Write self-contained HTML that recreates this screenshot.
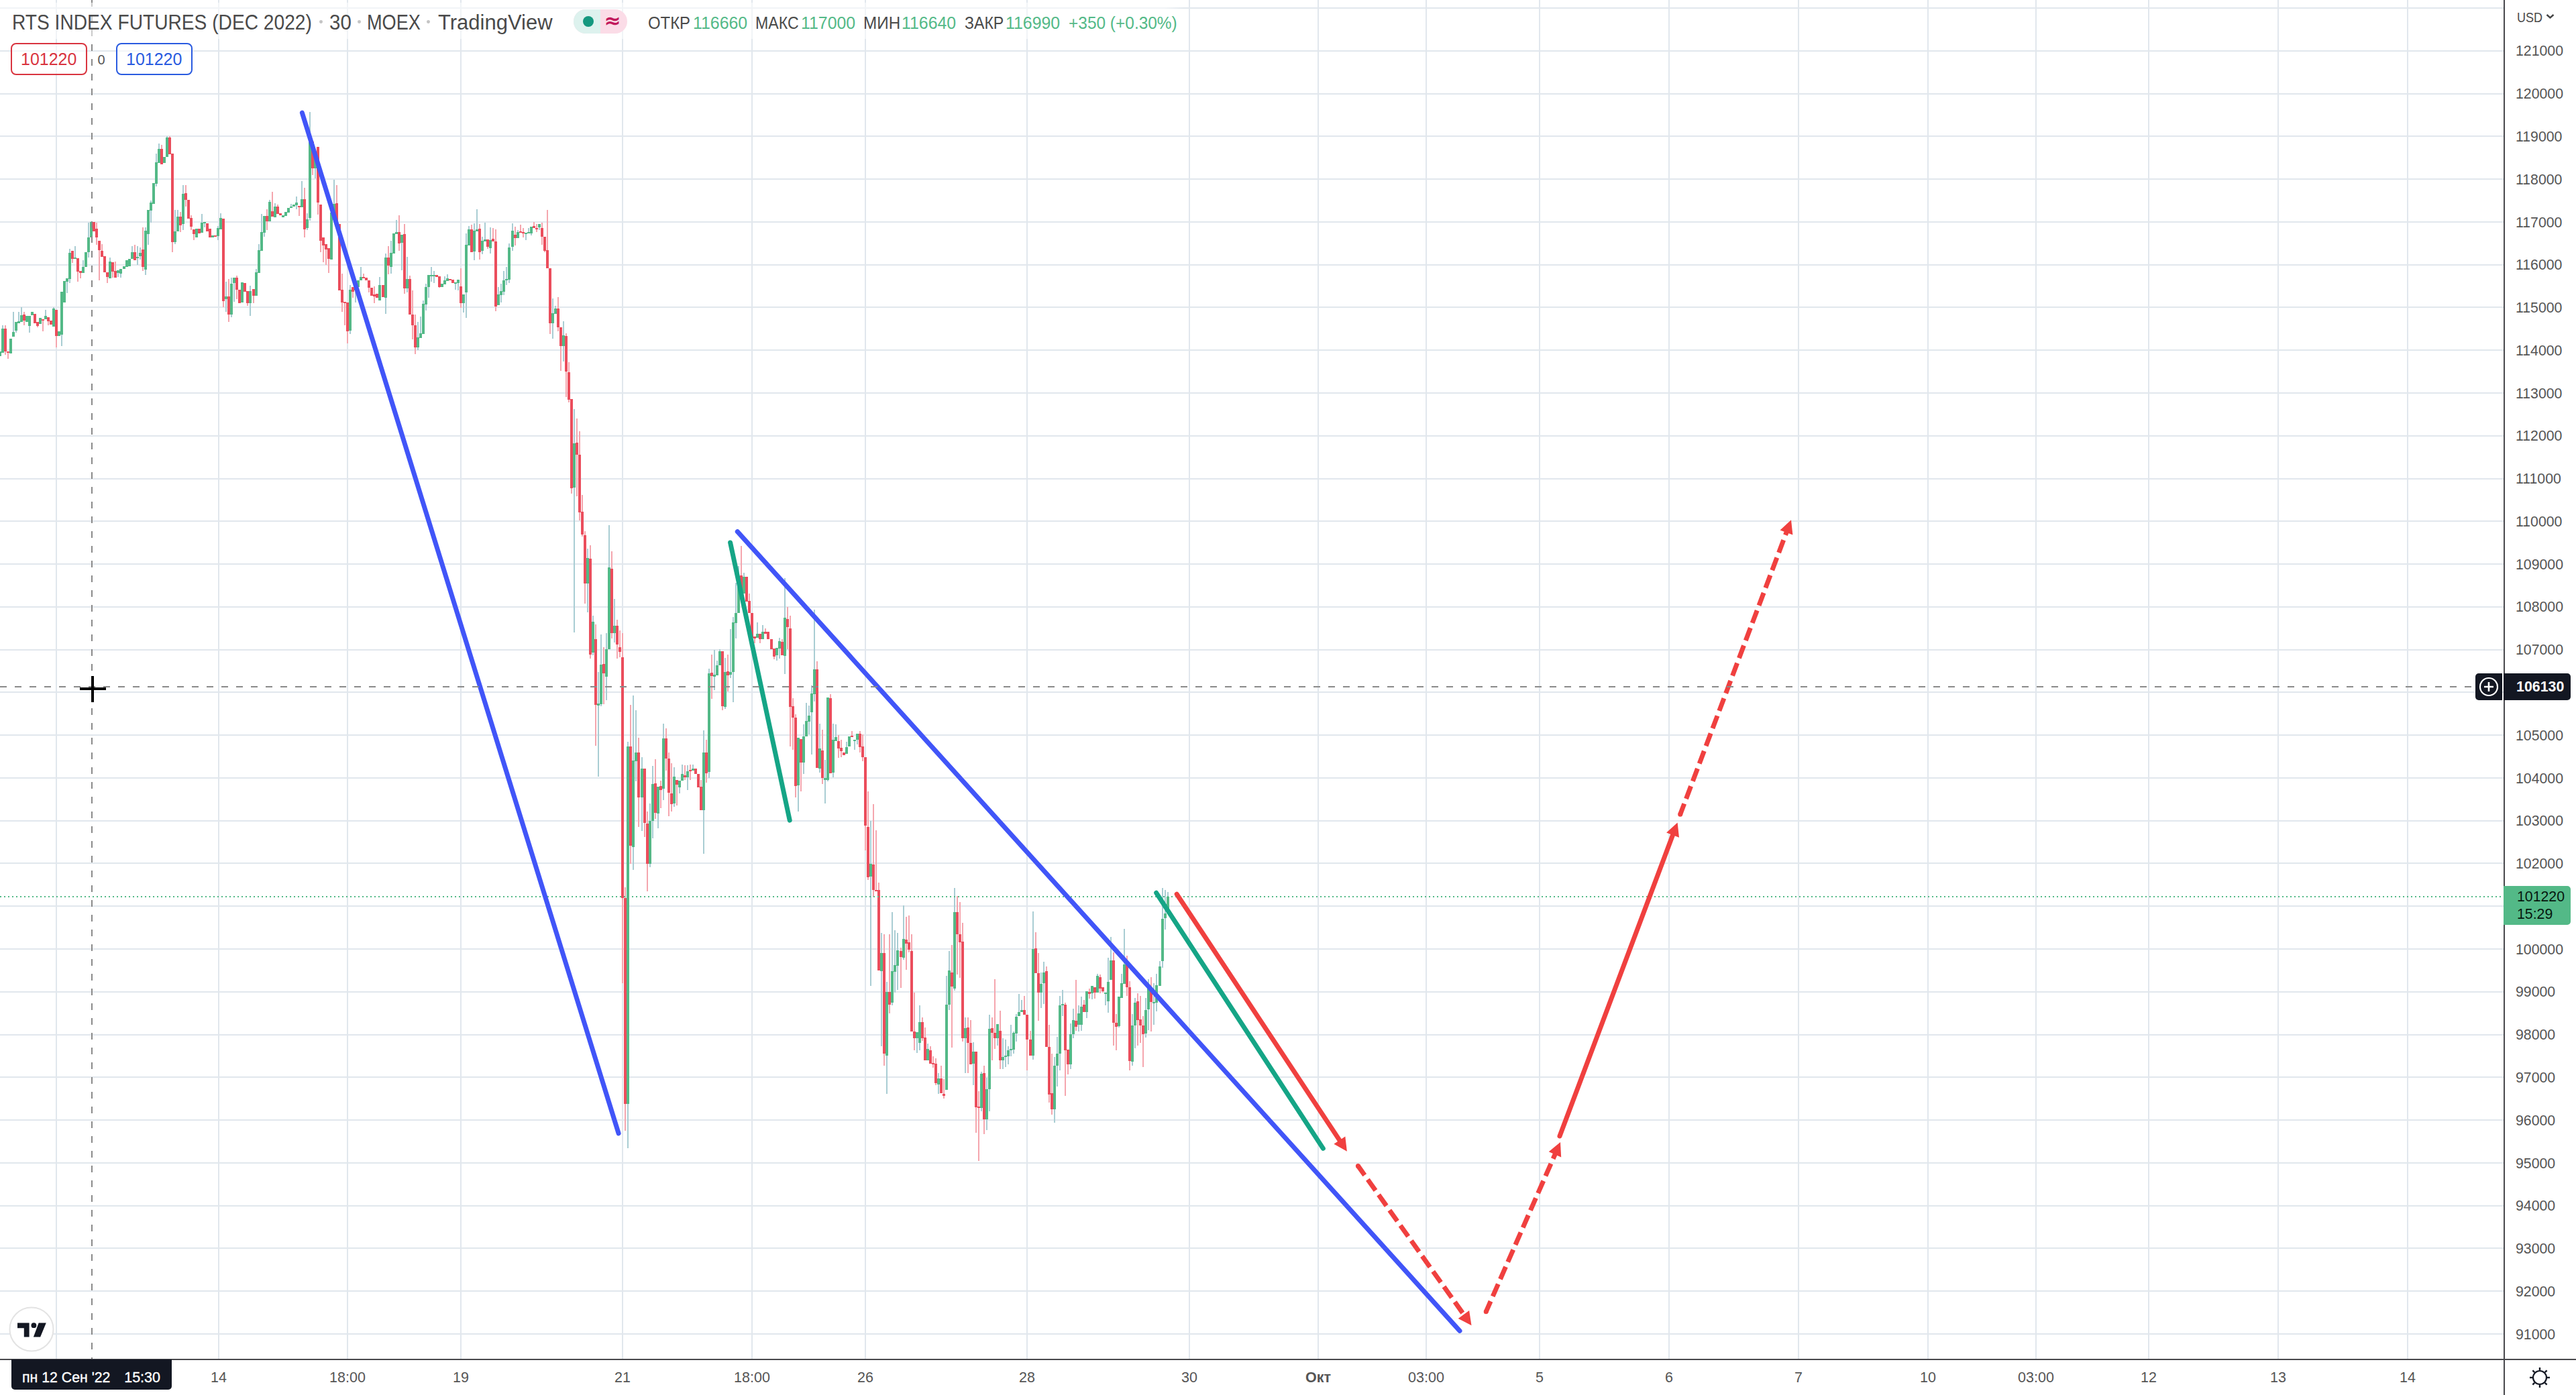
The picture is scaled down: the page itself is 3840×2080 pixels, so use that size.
<!DOCTYPE html>
<html lang="ru"><head><meta charset="utf-8"><title>RTS INDEX FUTURES (DEC 2022)</title>
<style>
html,body{margin:0;padding:0;background:#fff;}
body{width:3840px;height:2080px;position:relative;overflow:hidden;font-family:"Liberation Sans","DejaVu Sans",sans-serif;color:#555;}
svg.chart{position:absolute;left:0;top:0;}
.t{position:absolute;white-space:nowrap;line-height:1;}
.pl{position:absolute;left:3752px;font-size:21.5px;letter-spacing:-0.55px;white-space:nowrap;line-height:22px;height:22px;color:#555;}
.tl{position:absolute;top:2043.8px;font-size:21.5px;white-space:nowrap;line-height:1;color:#555;transform:translateX(-50%);}
.legendbg{position:absolute;left:0;top:4px;height:54px;width:1765px;background:linear-gradient(90deg,rgba(255,255,255,0.55) 0,rgba(255,255,255,0.55) 1735px,rgba(255,255,255,0) 1765px);}
.title{left:18px;top:14px;font-size:31px;color:#4a4a4a;letter-spacing:-0.5px;}
.ohlc{top:20px;font-size:25px;letter-spacing:-0.45px;color:#4a4a4a;}
.g{color:#53b987;}
.box{position:absolute;top:64px;height:44px;width:110px;border:2px solid;border-radius:8px;background:rgba(255,255,255,0.6);}
</style></head><body>

<svg class="chart" width="3840" height="2080" viewBox="0 0 3840 2080"><rect x="83" y="0" width="2" height="2026" fill="#e1e7ed"/>
<rect x="325" y="0" width="2" height="2026" fill="#e1e7ed"/>
<rect x="517" y="0" width="2" height="2026" fill="#e1e7ed"/>
<rect x="686" y="0" width="2" height="2026" fill="#e1e7ed"/>
<rect x="927" y="0" width="2" height="2026" fill="#e1e7ed"/>
<rect x="1120" y="0" width="2" height="2026" fill="#e1e7ed"/>
<rect x="1289" y="0" width="2" height="2026" fill="#e1e7ed"/>
<rect x="1530" y="0" width="2" height="2026" fill="#e1e7ed"/>
<rect x="1772" y="0" width="2" height="2026" fill="#e1e7ed"/>
<rect x="1964" y="0" width="2" height="2026" fill="#e1e7ed"/>
<rect x="2125" y="0" width="2" height="2026" fill="#e1e7ed"/>
<rect x="2294" y="0" width="2" height="2026" fill="#e1e7ed"/>
<rect x="2487" y="0" width="2" height="2026" fill="#e1e7ed"/>
<rect x="2680" y="0" width="2" height="2026" fill="#e1e7ed"/>
<rect x="2873" y="0" width="2" height="2026" fill="#e1e7ed"/>
<rect x="3034" y="0" width="2" height="2026" fill="#e1e7ed"/>
<rect x="3202" y="0" width="2" height="2026" fill="#e1e7ed"/>
<rect x="3395" y="0" width="2" height="2026" fill="#e1e7ed"/>
<rect x="3588" y="0" width="2" height="2026" fill="#e1e7ed"/>
<rect x="0" y="1988" width="3732" height="2" fill="#e1e7ed"/>
<rect x="0" y="1924" width="3732" height="2" fill="#e1e7ed"/>
<rect x="0" y="1860" width="3732" height="2" fill="#e1e7ed"/>
<rect x="0" y="1797" width="3732" height="2" fill="#e1e7ed"/>
<rect x="0" y="1733" width="3732" height="2" fill="#e1e7ed"/>
<rect x="0" y="1669" width="3732" height="2" fill="#e1e7ed"/>
<rect x="0" y="1605" width="3732" height="2" fill="#e1e7ed"/>
<rect x="0" y="1542" width="3732" height="2" fill="#e1e7ed"/>
<rect x="0" y="1478" width="3732" height="2" fill="#e1e7ed"/>
<rect x="0" y="1414" width="3732" height="2" fill="#e1e7ed"/>
<rect x="0" y="1350" width="3732" height="2" fill="#e1e7ed"/>
<rect x="0" y="1286" width="3732" height="2" fill="#e1e7ed"/>
<rect x="0" y="1223" width="3732" height="2" fill="#e1e7ed"/>
<rect x="0" y="1159" width="3732" height="2" fill="#e1e7ed"/>
<rect x="0" y="1095" width="3732" height="2" fill="#e1e7ed"/>
<rect x="0" y="1031" width="3732" height="2" fill="#e1e7ed"/>
<rect x="0" y="968" width="3732" height="2" fill="#e1e7ed"/>
<rect x="0" y="904" width="3732" height="2" fill="#e1e7ed"/>
<rect x="0" y="840" width="3732" height="2" fill="#e1e7ed"/>
<rect x="0" y="776" width="3732" height="2" fill="#e1e7ed"/>
<rect x="0" y="713" width="3732" height="2" fill="#e1e7ed"/>
<rect x="0" y="649" width="3732" height="2" fill="#e1e7ed"/>
<rect x="0" y="585" width="3732" height="2" fill="#e1e7ed"/>
<rect x="0" y="521" width="3732" height="2" fill="#e1e7ed"/>
<rect x="0" y="457" width="3732" height="2" fill="#e1e7ed"/>
<rect x="0" y="394" width="3732" height="2" fill="#e1e7ed"/>
<rect x="0" y="330" width="3732" height="2" fill="#e1e7ed"/>
<rect x="0" y="266" width="3732" height="2" fill="#e1e7ed"/>
<rect x="0" y="202" width="3732" height="2" fill="#e1e7ed"/>
<rect x="0" y="139" width="3732" height="2" fill="#e1e7ed"/>
<rect x="0" y="75" width="3732" height="2" fill="#e1e7ed"/>
<rect x="0" y="11" width="3732" height="2" fill="#e1e7ed"/>
<g shape-rendering="crispEdges"><rect x="-2" y="524" width="4" height="7" fill="#53b987"/><rect x="3" y="485" width="2" height="5" fill="#a9cdd3"/><rect x="2" y="490" width="4" height="36" fill="#53b987"/><rect x="7" y="485" width="2" height="5" fill="#f5a6ae"/><rect x="7" y="524" width="2" height="5" fill="#f5a6ae"/><rect x="6" y="490" width="4" height="34" fill="#eb4d5c"/><rect x="11" y="526" width="2" height="9" fill="#f5a6ae"/><rect x="10" y="524" width="4" height="2" fill="#eb4d5c"/><rect x="14" y="505" width="4" height="22" fill="#53b987"/><rect x="19" y="465" width="2" height="30" fill="#a9cdd3"/><rect x="18" y="495" width="4" height="7" fill="#53b987"/><rect x="23" y="493" width="2" height="3" fill="#a9cdd3"/><rect x="22" y="480" width="4" height="13" fill="#53b987"/><rect x="27" y="465" width="2" height="14" fill="#a9cdd3"/><rect x="26" y="479" width="4" height="3" fill="#53b987"/><rect x="31" y="458" width="2" height="12" fill="#a9cdd3"/><rect x="30" y="470" width="4" height="10" fill="#53b987"/><rect x="35" y="465" width="2" height="4" fill="#f5a6ae"/><rect x="35" y="478" width="2" height="7" fill="#f5a6ae"/><rect x="34" y="469" width="4" height="9" fill="#eb4d5c"/><rect x="38" y="471" width="4" height="9" fill="#53b987"/><rect x="43" y="486" width="2" height="10" fill="#a9cdd3"/><rect x="42" y="471" width="4" height="15" fill="#53b987"/><rect x="46" y="465" width="4" height="5" fill="#53b987"/><rect x="50" y="468" width="4" height="14" fill="#eb4d5c"/><rect x="55" y="486" width="2" height="2" fill="#f5a6ae"/><rect x="54" y="480" width="4" height="6" fill="#eb4d5c"/><rect x="58" y="474" width="4" height="9" fill="#53b987"/><rect x="63" y="478" width="2" height="16" fill="#f5a6ae"/><rect x="62" y="476" width="4" height="2" fill="#eb4d5c"/><rect x="67" y="462" width="2" height="9" fill="#a9cdd3"/><rect x="66" y="471" width="4" height="5" fill="#53b987"/><rect x="71" y="479" width="2" height="6" fill="#f5a6ae"/><rect x="70" y="473" width="4" height="6" fill="#eb4d5c"/><rect x="74" y="478" width="4" height="6" fill="#eb4d5c"/><rect x="79" y="458" width="2" height="2" fill="#a9cdd3"/><rect x="78" y="460" width="4" height="27" fill="#53b987"/><rect x="83" y="501" width="2" height="17" fill="#f5a6ae"/><rect x="82" y="462" width="4" height="39" fill="#eb4d5c"/><rect x="86" y="494" width="4" height="7" fill="#53b987"/><rect x="91" y="499" width="2" height="17" fill="#a9cdd3"/><rect x="90" y="435" width="4" height="64" fill="#53b987"/><rect x="94" y="419" width="4" height="32" fill="#53b987"/><rect x="99" y="420" width="2" height="17" fill="#a9cdd3"/><rect x="98" y="415" width="4" height="5" fill="#53b987"/><rect x="103" y="371" width="2" height="6" fill="#a9cdd3"/><rect x="103" y="416" width="2" height="6" fill="#a9cdd3"/><rect x="102" y="377" width="4" height="39" fill="#53b987"/><rect x="107" y="386" width="2" height="6" fill="#f5a6ae"/><rect x="106" y="374" width="4" height="12" fill="#eb4d5c"/><rect x="111" y="367" width="2" height="17" fill="#a9cdd3"/><rect x="110" y="384" width="4" height="2" fill="#53b987"/><rect x="115" y="405" width="2" height="15" fill="#f5a6ae"/><rect x="114" y="385" width="4" height="20" fill="#eb4d5c"/><rect x="119" y="407" width="2" height="8" fill="#f5a6ae"/><rect x="118" y="404" width="4" height="3" fill="#eb4d5c"/><rect x="123" y="388" width="2" height="10" fill="#a9cdd3"/><rect x="122" y="398" width="4" height="9" fill="#53b987"/><rect x="126" y="376" width="4" height="22" fill="#53b987"/><rect x="131" y="332" width="2" height="22" fill="#a9cdd3"/><rect x="131" y="376" width="2" height="8" fill="#a9cdd3"/><rect x="130" y="354" width="4" height="22" fill="#53b987"/><rect x="135" y="330" width="2" height="1" fill="#a9cdd3"/><rect x="134" y="331" width="4" height="23" fill="#53b987"/><rect x="138" y="331" width="4" height="14" fill="#eb4d5c"/><rect x="143" y="332" width="2" height="9" fill="#f5a6ae"/><rect x="143" y="354" width="2" height="11" fill="#f5a6ae"/><rect x="142" y="341" width="4" height="13" fill="#eb4d5c"/><rect x="147" y="373" width="2" height="45" fill="#f5a6ae"/><rect x="146" y="359" width="4" height="14" fill="#eb4d5c"/><rect x="151" y="364" width="2" height="10" fill="#f5a6ae"/><rect x="150" y="374" width="4" height="9" fill="#eb4d5c"/><rect x="154" y="382" width="4" height="24" fill="#eb4d5c"/><rect x="159" y="413" width="2" height="9" fill="#f5a6ae"/><rect x="158" y="406" width="4" height="7" fill="#eb4d5c"/><rect x="163" y="384" width="2" height="6" fill="#a9cdd3"/><rect x="162" y="390" width="4" height="25" fill="#53b987"/><rect x="167" y="405" width="2" height="9" fill="#f5a6ae"/><rect x="166" y="391" width="4" height="14" fill="#eb4d5c"/><rect x="171" y="390" width="2" height="14" fill="#f5a6ae"/><rect x="170" y="404" width="4" height="10" fill="#eb4d5c"/><rect x="175" y="407" width="2" height="6" fill="#a9cdd3"/><rect x="174" y="403" width="4" height="4" fill="#53b987"/><rect x="179" y="408" width="2" height="6" fill="#a9cdd3"/><rect x="178" y="401" width="4" height="7" fill="#53b987"/><rect x="183" y="397" width="4" height="4" fill="#53b987"/><rect x="187" y="388" width="4" height="10" fill="#53b987"/><rect x="191" y="386" width="4" height="11" fill="#53b987"/><rect x="196" y="367" width="2" height="9" fill="#a9cdd3"/><rect x="195" y="376" width="4" height="10" fill="#53b987"/><rect x="200" y="365" width="2" height="11" fill="#f5a6ae"/><rect x="199" y="376" width="4" height="12" fill="#eb4d5c"/><rect x="204" y="367" width="2" height="16" fill="#a9cdd3"/><rect x="204" y="385" width="2" height="10" fill="#a9cdd3"/><rect x="203" y="383" width="4" height="2" fill="#53b987"/><rect x="208" y="369" width="2" height="8" fill="#a9cdd3"/><rect x="208" y="382" width="2" height="5" fill="#a9cdd3"/><rect x="207" y="377" width="4" height="5" fill="#53b987"/><rect x="212" y="339" width="2" height="33" fill="#f5a6ae"/><rect x="212" y="398" width="2" height="6" fill="#f5a6ae"/><rect x="211" y="372" width="4" height="26" fill="#eb4d5c"/><rect x="216" y="339" width="2" height="5" fill="#a9cdd3"/><rect x="216" y="402" width="2" height="8" fill="#a9cdd3"/><rect x="215" y="344" width="4" height="58" fill="#53b987"/><rect x="220" y="349" width="2" height="16" fill="#a9cdd3"/><rect x="219" y="313" width="4" height="36" fill="#53b987"/><rect x="224" y="299" width="2" height="3" fill="#a9cdd3"/><rect x="224" y="314" width="2" height="18" fill="#a9cdd3"/><rect x="223" y="302" width="4" height="12" fill="#53b987"/><rect x="227" y="273" width="4" height="31" fill="#53b987"/><rect x="232" y="229" width="2" height="13" fill="#a9cdd3"/><rect x="232" y="274" width="2" height="4" fill="#a9cdd3"/><rect x="231" y="242" width="4" height="32" fill="#53b987"/><rect x="236" y="214" width="2" height="8" fill="#a9cdd3"/><rect x="235" y="222" width="4" height="21" fill="#53b987"/><rect x="240" y="216" width="2" height="6" fill="#f5a6ae"/><rect x="239" y="222" width="4" height="23" fill="#eb4d5c"/><rect x="243" y="234" width="4" height="9" fill="#53b987"/><rect x="248" y="203" width="2" height="2" fill="#a9cdd3"/><rect x="247" y="205" width="4" height="29" fill="#53b987"/><rect x="252" y="203" width="2" height="2" fill="#f5a6ae"/><rect x="251" y="205" width="4" height="25" fill="#eb4d5c"/><rect x="256" y="361" width="2" height="15" fill="#f5a6ae"/><rect x="255" y="229" width="4" height="132" fill="#eb4d5c"/><rect x="260" y="313" width="2" height="32" fill="#a9cdd3"/><rect x="260" y="361" width="2" height="3" fill="#a9cdd3"/><rect x="259" y="345" width="4" height="16" fill="#53b987"/><rect x="264" y="313" width="2" height="10" fill="#a9cdd3"/><rect x="263" y="323" width="4" height="22" fill="#53b987"/><rect x="268" y="316" width="2" height="7" fill="#f5a6ae"/><rect x="268" y="336" width="2" height="10" fill="#f5a6ae"/><rect x="267" y="323" width="4" height="13" fill="#eb4d5c"/><rect x="272" y="276" width="2" height="13" fill="#a9cdd3"/><rect x="272" y="334" width="2" height="9" fill="#a9cdd3"/><rect x="271" y="289" width="4" height="45" fill="#53b987"/><rect x="276" y="276" width="2" height="12" fill="#f5a6ae"/><rect x="276" y="298" width="2" height="10" fill="#f5a6ae"/><rect x="275" y="288" width="4" height="10" fill="#eb4d5c"/><rect x="279" y="298" width="4" height="28" fill="#eb4d5c"/><rect x="284" y="321" width="2" height="4" fill="#f5a6ae"/><rect x="284" y="338" width="2" height="5" fill="#f5a6ae"/><rect x="283" y="325" width="4" height="13" fill="#eb4d5c"/><rect x="288" y="349" width="2" height="9" fill="#f5a6ae"/><rect x="287" y="342" width="4" height="7" fill="#eb4d5c"/><rect x="291" y="341" width="4" height="13" fill="#53b987"/><rect x="295" y="341" width="4" height="7" fill="#eb4d5c"/><rect x="300" y="319" width="2" height="13" fill="#a9cdd3"/><rect x="299" y="332" width="4" height="15" fill="#53b987"/><rect x="304" y="333" width="2" height="6" fill="#a9cdd3"/><rect x="303" y="331" width="4" height="2" fill="#53b987"/><rect x="307" y="333" width="4" height="12" fill="#eb4d5c"/><rect x="311" y="341" width="4" height="13" fill="#eb4d5c"/><rect x="315" y="351" width="4" height="3" fill="#53b987"/><rect x="319" y="351" width="4" height="2" fill="#eb4d5c"/><rect x="324" y="337" width="2" height="3" fill="#a9cdd3"/><rect x="324" y="352" width="2" height="6" fill="#a9cdd3"/><rect x="323" y="340" width="4" height="12" fill="#53b987"/><rect x="328" y="318" width="2" height="7" fill="#a9cdd3"/><rect x="327" y="325" width="4" height="17" fill="#53b987"/><rect x="332" y="449" width="2" height="9" fill="#f5a6ae"/><rect x="331" y="326" width="4" height="123" fill="#eb4d5c"/><rect x="336" y="420" width="2" height="22" fill="#a9cdd3"/><rect x="336" y="446" width="2" height="19" fill="#a9cdd3"/><rect x="335" y="442" width="4" height="4" fill="#53b987"/><rect x="340" y="416" width="2" height="26" fill="#f5a6ae"/><rect x="340" y="469" width="2" height="11" fill="#f5a6ae"/><rect x="339" y="442" width="4" height="27" fill="#eb4d5c"/><rect x="344" y="414" width="2" height="9" fill="#a9cdd3"/><rect x="344" y="469" width="2" height="4" fill="#a9cdd3"/><rect x="343" y="423" width="4" height="46" fill="#53b987"/><rect x="348" y="422" width="2" height="28" fill="#a9cdd3"/><rect x="347" y="414" width="4" height="8" fill="#53b987"/><rect x="352" y="411" width="2" height="3" fill="#f5a6ae"/><rect x="352" y="432" width="2" height="14" fill="#f5a6ae"/><rect x="351" y="414" width="4" height="18" fill="#eb4d5c"/><rect x="355" y="432" width="4" height="20" fill="#eb4d5c"/><rect x="359" y="421" width="4" height="30" fill="#53b987"/><rect x="363" y="422" width="4" height="13" fill="#eb4d5c"/><rect x="368" y="452" width="2" height="4" fill="#f5a6ae"/><rect x="367" y="434" width="4" height="18" fill="#eb4d5c"/><rect x="372" y="426" width="2" height="8" fill="#a9cdd3"/><rect x="372" y="452" width="2" height="19" fill="#a9cdd3"/><rect x="371" y="434" width="4" height="18" fill="#53b987"/><rect x="377" y="441" width="2" height="11" fill="#f5a6ae"/><rect x="376" y="431" width="4" height="10" fill="#eb4d5c"/><rect x="381" y="401" width="2" height="5" fill="#a9cdd3"/><rect x="380" y="406" width="4" height="35" fill="#53b987"/><rect x="385" y="364" width="2" height="9" fill="#a9cdd3"/><rect x="384" y="373" width="4" height="34" fill="#53b987"/><rect x="389" y="319" width="2" height="27" fill="#a9cdd3"/><rect x="388" y="346" width="4" height="28" fill="#53b987"/><rect x="393" y="347" width="2" height="6" fill="#a9cdd3"/><rect x="392" y="322" width="4" height="25" fill="#53b987"/><rect x="397" y="312" width="2" height="10" fill="#f5a6ae"/><rect x="397" y="330" width="2" height="13" fill="#f5a6ae"/><rect x="396" y="322" width="4" height="8" fill="#eb4d5c"/><rect x="401" y="298" width="2" height="3" fill="#a9cdd3"/><rect x="400" y="301" width="4" height="29" fill="#53b987"/><rect x="405" y="286" width="2" height="29" fill="#f5a6ae"/><rect x="404" y="315" width="4" height="8" fill="#eb4d5c"/><rect x="409" y="303" width="2" height="5" fill="#a9cdd3"/><rect x="408" y="308" width="4" height="16" fill="#53b987"/><rect x="413" y="305" width="2" height="3" fill="#f5a6ae"/><rect x="412" y="308" width="4" height="11" fill="#eb4d5c"/><rect x="416" y="318" width="4" height="3" fill="#eb4d5c"/><rect x="420" y="321" width="4" height="3" fill="#53b987"/><rect x="424" y="316" width="4" height="6" fill="#53b987"/><rect x="428" y="310" width="4" height="7" fill="#53b987"/><rect x="433" y="304" width="2" height="4" fill="#a9cdd3"/><rect x="432" y="308" width="4" height="2" fill="#53b987"/><rect x="436" y="305" width="4" height="3" fill="#53b987"/><rect x="441" y="293" width="2" height="9" fill="#a9cdd3"/><rect x="441" y="306" width="2" height="6" fill="#a9cdd3"/><rect x="440" y="302" width="4" height="4" fill="#53b987"/><rect x="445" y="309" width="2" height="13" fill="#f5a6ae"/><rect x="444" y="307" width="4" height="2" fill="#eb4d5c"/><rect x="449" y="270" width="2" height="27" fill="#a9cdd3"/><rect x="448" y="297" width="4" height="12" fill="#53b987"/><rect x="453" y="280" width="2" height="17" fill="#f5a6ae"/><rect x="453" y="342" width="2" height="12" fill="#f5a6ae"/><rect x="452" y="297" width="4" height="45" fill="#eb4d5c"/><rect x="457" y="318" width="2" height="9" fill="#a9cdd3"/><rect x="457" y="340" width="2" height="3" fill="#a9cdd3"/><rect x="456" y="327" width="4" height="13" fill="#53b987"/><rect x="461" y="167" width="2" height="45" fill="#a9cdd3"/><rect x="461" y="325" width="2" height="4" fill="#a9cdd3"/><rect x="460" y="212" width="4" height="113" fill="#53b987"/><rect x="465" y="251" width="2" height="10" fill="#f5a6ae"/><rect x="464" y="211" width="4" height="40" fill="#eb4d5c"/><rect x="469" y="251" width="2" height="15" fill="#a9cdd3"/><rect x="468" y="228" width="4" height="23" fill="#53b987"/><rect x="473" y="302" width="2" height="18" fill="#f5a6ae"/><rect x="472" y="219" width="4" height="83" fill="#eb4d5c"/><rect x="477" y="359" width="2" height="17" fill="#f5a6ae"/><rect x="476" y="305" width="4" height="54" fill="#eb4d5c"/><rect x="481" y="366" width="2" height="25" fill="#f5a6ae"/><rect x="480" y="354" width="4" height="12" fill="#eb4d5c"/><rect x="485" y="372" width="2" height="23" fill="#f5a6ae"/><rect x="484" y="364" width="4" height="8" fill="#eb4d5c"/><rect x="489" y="386" width="2" height="21" fill="#f5a6ae"/><rect x="488" y="370" width="4" height="16" fill="#eb4d5c"/><rect x="492" y="317" width="4" height="70" fill="#53b987"/><rect x="497" y="268" width="2" height="36" fill="#a9cdd3"/><rect x="496" y="304" width="4" height="16" fill="#53b987"/><rect x="501" y="276" width="2" height="27" fill="#f5a6ae"/><rect x="500" y="303" width="4" height="30" fill="#eb4d5c"/><rect x="504" y="334" width="4" height="99" fill="#eb4d5c"/><rect x="509" y="408" width="2" height="24" fill="#f5a6ae"/><rect x="509" y="451" width="2" height="14" fill="#f5a6ae"/><rect x="508" y="432" width="4" height="19" fill="#eb4d5c"/><rect x="513" y="452" width="2" height="33" fill="#f5a6ae"/><rect x="512" y="450" width="4" height="2" fill="#eb4d5c"/><rect x="517" y="494" width="2" height="18" fill="#f5a6ae"/><rect x="516" y="451" width="4" height="43" fill="#eb4d5c"/><rect x="521" y="425" width="2" height="7" fill="#a9cdd3"/><rect x="521" y="493" width="2" height="5" fill="#a9cdd3"/><rect x="520" y="432" width="4" height="61" fill="#53b987"/><rect x="525" y="435" width="2" height="9" fill="#f5a6ae"/><rect x="524" y="428" width="4" height="7" fill="#eb4d5c"/><rect x="529" y="433" width="2" height="18" fill="#a9cdd3"/><rect x="528" y="428" width="4" height="5" fill="#53b987"/><rect x="532" y="418" width="4" height="10" fill="#53b987"/><rect x="537" y="398" width="2" height="15" fill="#a9cdd3"/><rect x="536" y="413" width="4" height="5" fill="#53b987"/><rect x="541" y="408" width="2" height="5" fill="#f5a6ae"/><rect x="540" y="413" width="4" height="2" fill="#eb4d5c"/><rect x="544" y="414" width="4" height="4" fill="#eb4d5c"/><rect x="549" y="429" width="2" height="7" fill="#f5a6ae"/><rect x="548" y="418" width="4" height="11" fill="#eb4d5c"/><rect x="552" y="429" width="4" height="12" fill="#eb4d5c"/><rect x="557" y="427" width="2" height="12" fill="#f5a6ae"/><rect x="557" y="442" width="2" height="10" fill="#f5a6ae"/><rect x="556" y="439" width="4" height="3" fill="#eb4d5c"/><rect x="560" y="438" width="4" height="6" fill="#eb4d5c"/><rect x="565" y="413" width="2" height="12" fill="#a9cdd3"/><rect x="564" y="425" width="4" height="23" fill="#53b987"/><rect x="569" y="425" width="4" height="18" fill="#eb4d5c"/><rect x="574" y="378" width="2" height="6" fill="#a9cdd3"/><rect x="574" y="444" width="2" height="24" fill="#a9cdd3"/><rect x="573" y="384" width="4" height="60" fill="#53b987"/><rect x="578" y="367" width="2" height="17" fill="#f5a6ae"/><rect x="578" y="396" width="2" height="13" fill="#f5a6ae"/><rect x="577" y="384" width="4" height="12" fill="#eb4d5c"/><rect x="582" y="359" width="2" height="18" fill="#a9cdd3"/><rect x="582" y="398" width="2" height="10" fill="#a9cdd3"/><rect x="581" y="377" width="4" height="21" fill="#53b987"/><rect x="585" y="348" width="4" height="30" fill="#53b987"/><rect x="590" y="328" width="2" height="18" fill="#a9cdd3"/><rect x="589" y="346" width="4" height="3" fill="#53b987"/><rect x="594" y="321" width="2" height="25" fill="#f5a6ae"/><rect x="594" y="363" width="2" height="11" fill="#f5a6ae"/><rect x="593" y="346" width="4" height="17" fill="#eb4d5c"/><rect x="598" y="362" width="2" height="41" fill="#a9cdd3"/><rect x="597" y="350" width="4" height="12" fill="#53b987"/><rect x="602" y="334" width="2" height="15" fill="#f5a6ae"/><rect x="602" y="430" width="2" height="8" fill="#f5a6ae"/><rect x="601" y="349" width="4" height="81" fill="#eb4d5c"/><rect x="606" y="383" width="2" height="33" fill="#a9cdd3"/><rect x="606" y="430" width="2" height="6" fill="#a9cdd3"/><rect x="605" y="416" width="4" height="14" fill="#53b987"/><rect x="610" y="411" width="2" height="5" fill="#f5a6ae"/><rect x="609" y="416" width="4" height="53" fill="#eb4d5c"/><rect x="614" y="433" width="2" height="36" fill="#f5a6ae"/><rect x="614" y="485" width="2" height="21" fill="#f5a6ae"/><rect x="613" y="469" width="4" height="16" fill="#eb4d5c"/><rect x="618" y="469" width="2" height="16" fill="#f5a6ae"/><rect x="618" y="518" width="2" height="10" fill="#f5a6ae"/><rect x="617" y="485" width="4" height="33" fill="#eb4d5c"/><rect x="622" y="480" width="2" height="23" fill="#a9cdd3"/><rect x="622" y="518" width="2" height="4" fill="#a9cdd3"/><rect x="621" y="503" width="4" height="15" fill="#53b987"/><rect x="626" y="472" width="2" height="25" fill="#a9cdd3"/><rect x="625" y="497" width="4" height="7" fill="#53b987"/><rect x="630" y="448" width="2" height="5" fill="#a9cdd3"/><rect x="629" y="453" width="4" height="45" fill="#53b987"/><rect x="634" y="423" width="2" height="5" fill="#a9cdd3"/><rect x="634" y="454" width="2" height="9" fill="#a9cdd3"/><rect x="633" y="428" width="4" height="26" fill="#53b987"/><rect x="638" y="428" width="2" height="16" fill="#a9cdd3"/><rect x="637" y="410" width="4" height="18" fill="#53b987"/><rect x="642" y="398" width="2" height="12" fill="#a9cdd3"/><rect x="642" y="412" width="2" height="8" fill="#a9cdd3"/><rect x="641" y="410" width="4" height="2" fill="#53b987"/><rect x="646" y="404" width="2" height="6" fill="#a9cdd3"/><rect x="646" y="412" width="2" height="10" fill="#a9cdd3"/><rect x="645" y="410" width="4" height="2" fill="#53b987"/><rect x="649" y="410" width="4" height="3" fill="#eb4d5c"/><rect x="654" y="428" width="2" height="1" fill="#f5a6ae"/><rect x="653" y="412" width="4" height="16" fill="#eb4d5c"/><rect x="657" y="423" width="4" height="5" fill="#53b987"/><rect x="662" y="412" width="2" height="6" fill="#a9cdd3"/><rect x="661" y="418" width="4" height="6" fill="#53b987"/><rect x="666" y="409" width="2" height="6" fill="#a9cdd3"/><rect x="665" y="415" width="4" height="4" fill="#53b987"/><rect x="669" y="416" width="4" height="2" fill="#eb4d5c"/><rect x="673" y="417" width="4" height="5" fill="#eb4d5c"/><rect x="678" y="423" width="2" height="9" fill="#a9cdd3"/><rect x="677" y="421" width="4" height="2" fill="#53b987"/><rect x="682" y="422" width="2" height="11" fill="#a9cdd3"/><rect x="681" y="417" width="4" height="5" fill="#53b987"/><rect x="686" y="400" width="2" height="27" fill="#f5a6ae"/><rect x="686" y="452" width="2" height="7" fill="#f5a6ae"/><rect x="685" y="427" width="4" height="25" fill="#eb4d5c"/><rect x="690" y="452" width="2" height="14" fill="#a9cdd3"/><rect x="689" y="439" width="4" height="13" fill="#53b987"/><rect x="694" y="348" width="2" height="17" fill="#a9cdd3"/><rect x="694" y="436" width="2" height="38" fill="#a9cdd3"/><rect x="693" y="365" width="4" height="71" fill="#53b987"/><rect x="698" y="337" width="2" height="5" fill="#a9cdd3"/><rect x="697" y="342" width="4" height="24" fill="#53b987"/><rect x="702" y="335" width="2" height="7" fill="#f5a6ae"/><rect x="701" y="342" width="4" height="34" fill="#eb4d5c"/><rect x="706" y="333" width="2" height="11" fill="#a9cdd3"/><rect x="706" y="375" width="2" height="13" fill="#a9cdd3"/><rect x="705" y="344" width="4" height="31" fill="#53b987"/><rect x="710" y="312" width="2" height="30" fill="#a9cdd3"/><rect x="709" y="342" width="4" height="3" fill="#53b987"/><rect x="714" y="334" width="2" height="7" fill="#f5a6ae"/><rect x="714" y="376" width="2" height="11" fill="#f5a6ae"/><rect x="713" y="341" width="4" height="35" fill="#eb4d5c"/><rect x="718" y="353" width="2" height="6" fill="#a9cdd3"/><rect x="718" y="374" width="2" height="5" fill="#a9cdd3"/><rect x="717" y="359" width="4" height="15" fill="#53b987"/><rect x="722" y="332" width="2" height="25" fill="#a9cdd3"/><rect x="721" y="357" width="4" height="3" fill="#53b987"/><rect x="726" y="368" width="2" height="3" fill="#f5a6ae"/><rect x="725" y="357" width="4" height="11" fill="#eb4d5c"/><rect x="730" y="339" width="2" height="19" fill="#a9cdd3"/><rect x="730" y="370" width="2" height="8" fill="#a9cdd3"/><rect x="729" y="358" width="4" height="12" fill="#53b987"/><rect x="734" y="340" width="2" height="16" fill="#f5a6ae"/><rect x="733" y="356" width="4" height="4" fill="#eb4d5c"/><rect x="738" y="342" width="2" height="18" fill="#f5a6ae"/><rect x="738" y="457" width="2" height="7" fill="#f5a6ae"/><rect x="737" y="360" width="4" height="97" fill="#eb4d5c"/><rect x="742" y="428" width="2" height="11" fill="#a9cdd3"/><rect x="741" y="439" width="4" height="16" fill="#53b987"/><rect x="746" y="423" width="2" height="11" fill="#a9cdd3"/><rect x="746" y="440" width="2" height="11" fill="#a9cdd3"/><rect x="745" y="434" width="4" height="6" fill="#53b987"/><rect x="750" y="404" width="2" height="14" fill="#a9cdd3"/><rect x="750" y="435" width="2" height="5" fill="#a9cdd3"/><rect x="749" y="418" width="4" height="17" fill="#53b987"/><rect x="754" y="398" width="2" height="18" fill="#a9cdd3"/><rect x="754" y="418" width="2" height="7" fill="#a9cdd3"/><rect x="753" y="416" width="4" height="2" fill="#53b987"/><rect x="758" y="363" width="2" height="6" fill="#a9cdd3"/><rect x="758" y="417" width="2" height="5" fill="#a9cdd3"/><rect x="757" y="369" width="4" height="48" fill="#53b987"/><rect x="763" y="333" width="2" height="11" fill="#a9cdd3"/><rect x="763" y="368" width="2" height="6" fill="#a9cdd3"/><rect x="762" y="344" width="4" height="24" fill="#53b987"/><rect x="767" y="338" width="2" height="12" fill="#f5a6ae"/><rect x="767" y="355" width="2" height="11" fill="#f5a6ae"/><rect x="766" y="350" width="4" height="5" fill="#eb4d5c"/><rect x="771" y="343" width="2" height="3" fill="#a9cdd3"/><rect x="770" y="346" width="4" height="9" fill="#53b987"/><rect x="775" y="335" width="2" height="10" fill="#f5a6ae"/><rect x="774" y="345" width="4" height="2" fill="#eb4d5c"/><rect x="779" y="340" width="2" height="6" fill="#f5a6ae"/><rect x="779" y="348" width="2" height="6" fill="#f5a6ae"/><rect x="778" y="346" width="4" height="2" fill="#eb4d5c"/><rect x="783" y="349" width="2" height="9" fill="#a9cdd3"/><rect x="782" y="347" width="4" height="2" fill="#53b987"/><rect x="787" y="340" width="2" height="6" fill="#a9cdd3"/><rect x="786" y="346" width="4" height="2" fill="#53b987"/><rect x="791" y="348" width="2" height="3" fill="#a9cdd3"/><rect x="790" y="338" width="4" height="10" fill="#53b987"/><rect x="795" y="331" width="2" height="6" fill="#f5a6ae"/><rect x="794" y="337" width="4" height="3" fill="#eb4d5c"/><rect x="799" y="334" width="2" height="6" fill="#f5a6ae"/><rect x="799" y="342" width="2" height="4" fill="#f5a6ae"/><rect x="798" y="340" width="4" height="2" fill="#eb4d5c"/><rect x="803" y="339" width="2" height="4" fill="#a9cdd3"/><rect x="802" y="334" width="4" height="5" fill="#53b987"/><rect x="807" y="332" width="2" height="8" fill="#f5a6ae"/><rect x="807" y="353" width="2" height="12" fill="#f5a6ae"/><rect x="806" y="340" width="4" height="13" fill="#eb4d5c"/><rect x="811" y="374" width="2" height="2" fill="#f5a6ae"/><rect x="810" y="353" width="4" height="21" fill="#eb4d5c"/><rect x="815" y="313" width="2" height="60" fill="#f5a6ae"/><rect x="814" y="373" width="4" height="27" fill="#eb4d5c"/><rect x="819" y="482" width="2" height="16" fill="#f5a6ae"/><rect x="818" y="400" width="4" height="82" fill="#eb4d5c"/><rect x="823" y="445" width="2" height="22" fill="#a9cdd3"/><rect x="823" y="482" width="2" height="23" fill="#a9cdd3"/><rect x="822" y="467" width="4" height="15" fill="#53b987"/><rect x="827" y="456" width="2" height="4" fill="#a9cdd3"/><rect x="826" y="460" width="4" height="8" fill="#53b987"/><rect x="831" y="443" width="2" height="17" fill="#f5a6ae"/><rect x="831" y="488" width="2" height="6" fill="#f5a6ae"/><rect x="830" y="460" width="4" height="28" fill="#eb4d5c"/><rect x="835" y="516" width="2" height="37" fill="#f5a6ae"/><rect x="834" y="488" width="4" height="28" fill="#eb4d5c"/><rect x="839" y="479" width="2" height="21" fill="#a9cdd3"/><rect x="839" y="516" width="2" height="23" fill="#a9cdd3"/><rect x="838" y="500" width="4" height="16" fill="#53b987"/><rect x="843" y="497" width="2" height="4" fill="#f5a6ae"/><rect x="843" y="554" width="2" height="38" fill="#f5a6ae"/><rect x="842" y="501" width="4" height="53" fill="#eb4d5c"/><rect x="847" y="540" width="2" height="15" fill="#f5a6ae"/><rect x="847" y="596" width="2" height="4" fill="#f5a6ae"/><rect x="846" y="555" width="4" height="41" fill="#eb4d5c"/><rect x="851" y="728" width="2" height="8" fill="#f5a6ae"/><rect x="850" y="595" width="4" height="133" fill="#eb4d5c"/><rect x="855" y="610" width="2" height="51" fill="#a9cdd3"/><rect x="855" y="727" width="2" height="216" fill="#a9cdd3"/><rect x="854" y="661" width="4" height="66" fill="#53b987"/><rect x="859" y="624" width="2" height="36" fill="#f5a6ae"/><rect x="859" y="678" width="2" height="62" fill="#f5a6ae"/><rect x="858" y="660" width="4" height="18" fill="#eb4d5c"/><rect x="863" y="643" width="2" height="35" fill="#f5a6ae"/><rect x="863" y="764" width="2" height="12" fill="#f5a6ae"/><rect x="862" y="678" width="4" height="86" fill="#eb4d5c"/><rect x="867" y="738" width="2" height="25" fill="#f5a6ae"/><rect x="867" y="797" width="2" height="3" fill="#f5a6ae"/><rect x="866" y="763" width="4" height="34" fill="#eb4d5c"/><rect x="871" y="792" width="2" height="6" fill="#f5a6ae"/><rect x="871" y="870" width="2" height="30" fill="#f5a6ae"/><rect x="870" y="798" width="4" height="72" fill="#eb4d5c"/><rect x="875" y="818" width="2" height="14" fill="#a9cdd3"/><rect x="875" y="870" width="2" height="43" fill="#a9cdd3"/><rect x="874" y="832" width="4" height="38" fill="#53b987"/><rect x="879" y="813" width="2" height="20" fill="#f5a6ae"/><rect x="879" y="976" width="2" height="6" fill="#f5a6ae"/><rect x="878" y="833" width="4" height="143" fill="#eb4d5c"/><rect x="883" y="918" width="2" height="9" fill="#a9cdd3"/><rect x="883" y="973" width="2" height="4" fill="#a9cdd3"/><rect x="882" y="927" width="4" height="46" fill="#53b987"/><rect x="887" y="931" width="2" height="22" fill="#f5a6ae"/><rect x="887" y="1051" width="2" height="61" fill="#f5a6ae"/><rect x="886" y="953" width="4" height="98" fill="#eb4d5c"/><rect x="891" y="1002" width="2" height="47" fill="#a9cdd3"/><rect x="891" y="1052" width="2" height="106" fill="#a9cdd3"/><rect x="890" y="1049" width="4" height="3" fill="#53b987"/><rect x="895" y="946" width="2" height="45" fill="#a9cdd3"/><rect x="895" y="1050" width="2" height="3" fill="#a9cdd3"/><rect x="894" y="991" width="4" height="59" fill="#53b987"/><rect x="899" y="965" width="2" height="25" fill="#f5a6ae"/><rect x="899" y="1004" width="2" height="46" fill="#f5a6ae"/><rect x="898" y="990" width="4" height="14" fill="#eb4d5c"/><rect x="903" y="944" width="2" height="24" fill="#a9cdd3"/><rect x="903" y="1009" width="2" height="35" fill="#a9cdd3"/><rect x="902" y="968" width="4" height="41" fill="#53b987"/><rect x="907" y="783" width="2" height="63" fill="#a9cdd3"/><rect x="906" y="846" width="4" height="122" fill="#53b987"/><rect x="911" y="822" width="2" height="26" fill="#f5a6ae"/><rect x="911" y="944" width="2" height="8" fill="#f5a6ae"/><rect x="910" y="848" width="4" height="96" fill="#eb4d5c"/><rect x="915" y="893" width="2" height="40" fill="#a9cdd3"/><rect x="915" y="944" width="2" height="14" fill="#a9cdd3"/><rect x="914" y="933" width="4" height="11" fill="#53b987"/><rect x="919" y="924" width="2" height="9" fill="#f5a6ae"/><rect x="919" y="961" width="2" height="21" fill="#f5a6ae"/><rect x="918" y="933" width="4" height="28" fill="#eb4d5c"/><rect x="923" y="940" width="2" height="25" fill="#f5a6ae"/><rect x="923" y="972" width="2" height="8" fill="#f5a6ae"/><rect x="922" y="965" width="4" height="7" fill="#eb4d5c"/><rect x="927" y="944" width="2" height="36" fill="#f5a6ae"/><rect x="927" y="1339" width="2" height="127" fill="#f5a6ae"/><rect x="926" y="980" width="4" height="359" fill="#eb4d5c"/><rect x="931" y="1323" width="2" height="16" fill="#f5a6ae"/><rect x="931" y="1646" width="2" height="40" fill="#f5a6ae"/><rect x="930" y="1339" width="4" height="307" fill="#eb4d5c"/><rect x="935" y="1106" width="2" height="7" fill="#a9cdd3"/><rect x="935" y="1646" width="2" height="66" fill="#a9cdd3"/><rect x="934" y="1113" width="4" height="533" fill="#53b987"/><rect x="939" y="1051" width="2" height="62" fill="#f5a6ae"/><rect x="939" y="1261" width="2" height="27" fill="#f5a6ae"/><rect x="938" y="1113" width="4" height="148" fill="#eb4d5c"/><rect x="943" y="1037" width="2" height="97" fill="#a9cdd3"/><rect x="943" y="1263" width="2" height="34" fill="#a9cdd3"/><rect x="942" y="1134" width="4" height="129" fill="#53b987"/><rect x="947" y="1059" width="2" height="63" fill="#a9cdd3"/><rect x="947" y="1135" width="2" height="30" fill="#a9cdd3"/><rect x="946" y="1122" width="4" height="13" fill="#53b987"/><rect x="951" y="1100" width="2" height="22" fill="#f5a6ae"/><rect x="951" y="1189" width="2" height="44" fill="#f5a6ae"/><rect x="950" y="1122" width="4" height="67" fill="#eb4d5c"/><rect x="956" y="1129" width="2" height="17" fill="#a9cdd3"/><rect x="956" y="1189" width="2" height="50" fill="#a9cdd3"/><rect x="955" y="1146" width="4" height="43" fill="#53b987"/><rect x="960" y="1227" width="2" height="21" fill="#f5a6ae"/><rect x="959" y="1146" width="4" height="81" fill="#eb4d5c"/><rect x="964" y="1210" width="2" height="18" fill="#f5a6ae"/><rect x="964" y="1288" width="2" height="41" fill="#f5a6ae"/><rect x="963" y="1228" width="4" height="60" fill="#eb4d5c"/><rect x="968" y="1198" width="2" height="26" fill="#a9cdd3"/><rect x="968" y="1288" width="2" height="5" fill="#a9cdd3"/><rect x="967" y="1224" width="4" height="64" fill="#53b987"/><rect x="972" y="1142" width="2" height="27" fill="#a9cdd3"/><rect x="972" y="1224" width="2" height="26" fill="#a9cdd3"/><rect x="971" y="1169" width="4" height="55" fill="#53b987"/><rect x="976" y="1132" width="2" height="36" fill="#f5a6ae"/><rect x="976" y="1212" width="2" height="9" fill="#f5a6ae"/><rect x="975" y="1168" width="4" height="44" fill="#eb4d5c"/><rect x="980" y="1213" width="2" height="22" fill="#a9cdd3"/><rect x="979" y="1173" width="4" height="40" fill="#53b987"/><rect x="984" y="1164" width="2" height="8" fill="#f5a6ae"/><rect x="984" y="1178" width="2" height="27" fill="#f5a6ae"/><rect x="983" y="1172" width="4" height="6" fill="#eb4d5c"/><rect x="988" y="1079" width="2" height="22" fill="#a9cdd3"/><rect x="988" y="1176" width="2" height="17" fill="#a9cdd3"/><rect x="987" y="1101" width="4" height="75" fill="#53b987"/><rect x="992" y="1086" width="2" height="15" fill="#f5a6ae"/><rect x="992" y="1131" width="2" height="18" fill="#f5a6ae"/><rect x="991" y="1101" width="4" height="30" fill="#eb4d5c"/><rect x="996" y="1122" width="2" height="9" fill="#f5a6ae"/><rect x="996" y="1182" width="2" height="35" fill="#f5a6ae"/><rect x="995" y="1131" width="4" height="51" fill="#eb4d5c"/><rect x="1000" y="1138" width="2" height="45" fill="#f5a6ae"/><rect x="1000" y="1199" width="2" height="11" fill="#f5a6ae"/><rect x="999" y="1183" width="4" height="16" fill="#eb4d5c"/><rect x="1004" y="1144" width="2" height="14" fill="#a9cdd3"/><rect x="1004" y="1198" width="2" height="5" fill="#a9cdd3"/><rect x="1003" y="1158" width="4" height="40" fill="#53b987"/><rect x="1008" y="1170" width="2" height="31" fill="#f5a6ae"/><rect x="1007" y="1163" width="4" height="7" fill="#eb4d5c"/><rect x="1012" y="1174" width="2" height="9" fill="#a9cdd3"/><rect x="1011" y="1164" width="4" height="10" fill="#53b987"/><rect x="1016" y="1140" width="2" height="14" fill="#a9cdd3"/><rect x="1015" y="1154" width="4" height="10" fill="#53b987"/><rect x="1020" y="1141" width="2" height="15" fill="#f5a6ae"/><rect x="1020" y="1159" width="2" height="4" fill="#f5a6ae"/><rect x="1019" y="1156" width="4" height="3" fill="#eb4d5c"/><rect x="1024" y="1141" width="2" height="9" fill="#a9cdd3"/><rect x="1024" y="1159" width="2" height="19" fill="#a9cdd3"/><rect x="1023" y="1150" width="4" height="9" fill="#53b987"/><rect x="1028" y="1140" width="2" height="8" fill="#f5a6ae"/><rect x="1028" y="1150" width="2" height="13" fill="#f5a6ae"/><rect x="1027" y="1148" width="4" height="2" fill="#eb4d5c"/><rect x="1032" y="1140" width="2" height="6" fill="#a9cdd3"/><rect x="1031" y="1146" width="4" height="3" fill="#53b987"/><rect x="1035" y="1146" width="4" height="8" fill="#eb4d5c"/><rect x="1039" y="1154" width="4" height="20" fill="#eb4d5c"/><rect x="1044" y="1163" width="2" height="10" fill="#f5a6ae"/><rect x="1043" y="1173" width="4" height="35" fill="#eb4d5c"/><rect x="1048" y="1089" width="2" height="33" fill="#a9cdd3"/><rect x="1048" y="1208" width="2" height="65" fill="#a9cdd3"/><rect x="1047" y="1122" width="4" height="86" fill="#53b987"/><rect x="1052" y="1103" width="2" height="19" fill="#f5a6ae"/><rect x="1052" y="1153" width="2" height="14" fill="#f5a6ae"/><rect x="1051" y="1122" width="4" height="31" fill="#eb4d5c"/><rect x="1056" y="997" width="2" height="7" fill="#a9cdd3"/><rect x="1056" y="1151" width="2" height="9" fill="#a9cdd3"/><rect x="1055" y="1004" width="4" height="147" fill="#53b987"/><rect x="1060" y="976" width="2" height="27" fill="#f5a6ae"/><rect x="1060" y="1008" width="2" height="34" fill="#f5a6ae"/><rect x="1059" y="1003" width="4" height="5" fill="#eb4d5c"/><rect x="1064" y="969" width="2" height="37" fill="#a9cdd3"/><rect x="1064" y="1009" width="2" height="20" fill="#a9cdd3"/><rect x="1063" y="1006" width="4" height="3" fill="#53b987"/><rect x="1068" y="985" width="2" height="7" fill="#a9cdd3"/><rect x="1067" y="992" width="4" height="15" fill="#53b987"/><rect x="1072" y="968" width="2" height="3" fill="#a9cdd3"/><rect x="1071" y="971" width="4" height="21" fill="#53b987"/><rect x="1076" y="1053" width="2" height="6" fill="#f5a6ae"/><rect x="1075" y="971" width="4" height="82" fill="#eb4d5c"/><rect x="1080" y="981" width="2" height="21" fill="#a9cdd3"/><rect x="1080" y="1054" width="2" height="3" fill="#a9cdd3"/><rect x="1079" y="1002" width="4" height="52" fill="#53b987"/><rect x="1084" y="976" width="2" height="25" fill="#f5a6ae"/><rect x="1084" y="1007" width="2" height="24" fill="#f5a6ae"/><rect x="1083" y="1001" width="4" height="6" fill="#eb4d5c"/><rect x="1088" y="938" width="2" height="64" fill="#a9cdd3"/><rect x="1088" y="1006" width="2" height="5" fill="#a9cdd3"/><rect x="1087" y="1002" width="4" height="4" fill="#53b987"/><rect x="1092" y="920" width="2" height="8" fill="#a9cdd3"/><rect x="1092" y="1002" width="2" height="45" fill="#a9cdd3"/><rect x="1091" y="928" width="4" height="74" fill="#53b987"/><rect x="1096" y="869" width="2" height="45" fill="#a9cdd3"/><rect x="1096" y="929" width="2" height="23" fill="#a9cdd3"/><rect x="1095" y="914" width="4" height="15" fill="#53b987"/><rect x="1100" y="844" width="2" height="16" fill="#a9cdd3"/><rect x="1099" y="860" width="4" height="54" fill="#53b987"/><rect x="1104" y="814" width="2" height="44" fill="#f5a6ae"/><rect x="1104" y="885" width="2" height="5" fill="#f5a6ae"/><rect x="1103" y="858" width="4" height="27" fill="#eb4d5c"/><rect x="1108" y="854" width="2" height="6" fill="#a9cdd3"/><rect x="1107" y="860" width="4" height="25" fill="#53b987"/><rect x="1111" y="860" width="4" height="37" fill="#eb4d5c"/><rect x="1116" y="885" width="2" height="11" fill="#f5a6ae"/><rect x="1115" y="896" width="4" height="18" fill="#eb4d5c"/><rect x="1119" y="914" width="4" height="37" fill="#eb4d5c"/><rect x="1124" y="952" width="2" height="7" fill="#f5a6ae"/><rect x="1123" y="949" width="4" height="3" fill="#eb4d5c"/><rect x="1128" y="928" width="2" height="17" fill="#a9cdd3"/><rect x="1127" y="945" width="4" height="6" fill="#53b987"/><rect x="1132" y="953" width="2" height="6" fill="#f5a6ae"/><rect x="1131" y="945" width="4" height="8" fill="#eb4d5c"/><rect x="1136" y="932" width="2" height="10" fill="#a9cdd3"/><rect x="1135" y="942" width="4" height="11" fill="#53b987"/><rect x="1140" y="937" width="2" height="5" fill="#f5a6ae"/><rect x="1139" y="942" width="4" height="3" fill="#eb4d5c"/><rect x="1143" y="942" width="4" height="11" fill="#eb4d5c"/><rect x="1148" y="953" width="4" height="15" fill="#eb4d5c"/><rect x="1153" y="979" width="2" height="4" fill="#f5a6ae"/><rect x="1152" y="967" width="4" height="12" fill="#eb4d5c"/><rect x="1157" y="977" width="2" height="8" fill="#a9cdd3"/><rect x="1156" y="966" width="4" height="11" fill="#53b987"/><rect x="1161" y="951" width="2" height="5" fill="#a9cdd3"/><rect x="1161" y="967" width="2" height="15" fill="#a9cdd3"/><rect x="1160" y="956" width="4" height="11" fill="#53b987"/><rect x="1165" y="953" width="2" height="4" fill="#f5a6ae"/><rect x="1164" y="957" width="4" height="20" fill="#eb4d5c"/><rect x="1169" y="862" width="2" height="59" fill="#a9cdd3"/><rect x="1169" y="978" width="2" height="27" fill="#a9cdd3"/><rect x="1168" y="921" width="4" height="57" fill="#53b987"/><rect x="1173" y="905" width="2" height="18" fill="#f5a6ae"/><rect x="1173" y="935" width="2" height="33" fill="#f5a6ae"/><rect x="1172" y="923" width="4" height="12" fill="#eb4d5c"/><rect x="1177" y="918" width="2" height="19" fill="#f5a6ae"/><rect x="1177" y="1054" width="2" height="59" fill="#f5a6ae"/><rect x="1176" y="937" width="4" height="117" fill="#eb4d5c"/><rect x="1181" y="1041" width="2" height="12" fill="#f5a6ae"/><rect x="1181" y="1070" width="2" height="48" fill="#f5a6ae"/><rect x="1180" y="1053" width="4" height="17" fill="#eb4d5c"/><rect x="1185" y="1065" width="2" height="5" fill="#f5a6ae"/><rect x="1185" y="1172" width="2" height="17" fill="#f5a6ae"/><rect x="1184" y="1070" width="4" height="102" fill="#eb4d5c"/><rect x="1189" y="1171" width="2" height="39" fill="#a9cdd3"/><rect x="1188" y="1100" width="4" height="71" fill="#53b987"/><rect x="1193" y="1137" width="2" height="43" fill="#f5a6ae"/><rect x="1192" y="1102" width="4" height="35" fill="#eb4d5c"/><rect x="1197" y="1080" width="2" height="18" fill="#a9cdd3"/><rect x="1197" y="1137" width="2" height="17" fill="#a9cdd3"/><rect x="1196" y="1098" width="4" height="39" fill="#53b987"/><rect x="1201" y="1048" width="2" height="27" fill="#a9cdd3"/><rect x="1200" y="1075" width="4" height="23" fill="#53b987"/><rect x="1205" y="1052" width="2" height="15" fill="#a9cdd3"/><rect x="1205" y="1076" width="2" height="19" fill="#a9cdd3"/><rect x="1204" y="1067" width="4" height="9" fill="#53b987"/><rect x="1209" y="1022" width="2" height="12" fill="#a9cdd3"/><rect x="1209" y="1062" width="2" height="63" fill="#a9cdd3"/><rect x="1208" y="1034" width="4" height="28" fill="#53b987"/><rect x="1213" y="909" width="2" height="89" fill="#a9cdd3"/><rect x="1213" y="1035" width="2" height="11" fill="#a9cdd3"/><rect x="1212" y="998" width="4" height="37" fill="#53b987"/><rect x="1217" y="986" width="2" height="12" fill="#f5a6ae"/><rect x="1216" y="998" width="4" height="147" fill="#eb4d5c"/><rect x="1221" y="1079" width="2" height="37" fill="#a9cdd3"/><rect x="1221" y="1146" width="2" height="6" fill="#a9cdd3"/><rect x="1220" y="1116" width="4" height="30" fill="#53b987"/><rect x="1225" y="1088" width="2" height="31" fill="#f5a6ae"/><rect x="1225" y="1160" width="2" height="9" fill="#f5a6ae"/><rect x="1224" y="1119" width="4" height="41" fill="#eb4d5c"/><rect x="1229" y="1133" width="2" height="27" fill="#a9cdd3"/><rect x="1229" y="1163" width="2" height="35" fill="#a9cdd3"/><rect x="1228" y="1160" width="4" height="3" fill="#53b987"/><rect x="1233" y="1163" width="2" height="2" fill="#a9cdd3"/><rect x="1232" y="1040" width="4" height="123" fill="#53b987"/><rect x="1237" y="1035" width="2" height="6" fill="#f5a6ae"/><rect x="1236" y="1041" width="4" height="112" fill="#eb4d5c"/><rect x="1241" y="1079" width="2" height="24" fill="#a9cdd3"/><rect x="1241" y="1152" width="2" height="7" fill="#a9cdd3"/><rect x="1240" y="1103" width="4" height="49" fill="#53b987"/><rect x="1245" y="1080" width="2" height="19" fill="#a9cdd3"/><rect x="1244" y="1099" width="4" height="6" fill="#53b987"/><rect x="1249" y="1096" width="2" height="9" fill="#f5a6ae"/><rect x="1249" y="1116" width="2" height="14" fill="#f5a6ae"/><rect x="1248" y="1105" width="4" height="11" fill="#eb4d5c"/><rect x="1253" y="1103" width="2" height="12" fill="#f5a6ae"/><rect x="1253" y="1120" width="2" height="9" fill="#f5a6ae"/><rect x="1252" y="1115" width="4" height="5" fill="#eb4d5c"/><rect x="1256" y="1122" width="4" height="4" fill="#eb4d5c"/><rect x="1261" y="1106" width="2" height="8" fill="#a9cdd3"/><rect x="1260" y="1114" width="4" height="10" fill="#53b987"/><rect x="1264" y="1098" width="4" height="15" fill="#53b987"/><rect x="1269" y="1090" width="2" height="7" fill="#f5a6ae"/><rect x="1268" y="1097" width="4" height="2" fill="#eb4d5c"/><rect x="1273" y="1105" width="2" height="13" fill="#a9cdd3"/><rect x="1272" y="1103" width="4" height="2" fill="#53b987"/><rect x="1277" y="1103" width="2" height="7" fill="#a9cdd3"/><rect x="1276" y="1094" width="4" height="9" fill="#53b987"/><rect x="1281" y="1090" width="2" height="4" fill="#f5a6ae"/><rect x="1281" y="1114" width="2" height="8" fill="#f5a6ae"/><rect x="1280" y="1094" width="4" height="20" fill="#eb4d5c"/><rect x="1285" y="1095" width="2" height="18" fill="#f5a6ae"/><rect x="1285" y="1129" width="2" height="6" fill="#f5a6ae"/><rect x="1284" y="1113" width="4" height="16" fill="#eb4d5c"/><rect x="1289" y="1231" width="2" height="37" fill="#f5a6ae"/><rect x="1288" y="1129" width="4" height="102" fill="#eb4d5c"/><rect x="1293" y="1180" width="2" height="53" fill="#f5a6ae"/><rect x="1293" y="1308" width="2" height="4" fill="#f5a6ae"/><rect x="1292" y="1233" width="4" height="75" fill="#eb4d5c"/><rect x="1297" y="1224" width="2" height="64" fill="#a9cdd3"/><rect x="1297" y="1307" width="2" height="163" fill="#a9cdd3"/><rect x="1296" y="1288" width="4" height="19" fill="#53b987"/><rect x="1301" y="1199" width="2" height="90" fill="#f5a6ae"/><rect x="1301" y="1327" width="2" height="10" fill="#f5a6ae"/><rect x="1300" y="1289" width="4" height="38" fill="#eb4d5c"/><rect x="1305" y="1238" width="2" height="89" fill="#f5a6ae"/><rect x="1304" y="1327" width="4" height="2" fill="#eb4d5c"/><rect x="1309" y="1316" width="2" height="11" fill="#f5a6ae"/><rect x="1308" y="1327" width="4" height="120" fill="#eb4d5c"/><rect x="1313" y="1391" width="2" height="30" fill="#a9cdd3"/><rect x="1313" y="1448" width="2" height="112" fill="#a9cdd3"/><rect x="1312" y="1421" width="4" height="27" fill="#53b987"/><rect x="1317" y="1393" width="2" height="28" fill="#f5a6ae"/><rect x="1317" y="1571" width="2" height="18" fill="#f5a6ae"/><rect x="1316" y="1421" width="4" height="150" fill="#eb4d5c"/><rect x="1321" y="1464" width="2" height="15" fill="#a9cdd3"/><rect x="1321" y="1574" width="2" height="57" fill="#a9cdd3"/><rect x="1320" y="1479" width="4" height="95" fill="#53b987"/><rect x="1325" y="1393" width="2" height="86" fill="#f5a6ae"/><rect x="1325" y="1498" width="2" height="13" fill="#f5a6ae"/><rect x="1324" y="1479" width="4" height="19" fill="#eb4d5c"/><rect x="1329" y="1360" width="2" height="88" fill="#a9cdd3"/><rect x="1329" y="1495" width="2" height="4" fill="#a9cdd3"/><rect x="1328" y="1448" width="4" height="47" fill="#53b987"/><rect x="1333" y="1387" width="2" height="52" fill="#a9cdd3"/><rect x="1333" y="1449" width="2" height="31" fill="#a9cdd3"/><rect x="1332" y="1439" width="4" height="10" fill="#53b987"/><rect x="1337" y="1391" width="2" height="26" fill="#a9cdd3"/><rect x="1337" y="1440" width="2" height="36" fill="#a9cdd3"/><rect x="1336" y="1417" width="4" height="23" fill="#53b987"/><rect x="1342" y="1413" width="2" height="5" fill="#f5a6ae"/><rect x="1342" y="1427" width="2" height="46" fill="#f5a6ae"/><rect x="1341" y="1418" width="4" height="9" fill="#eb4d5c"/><rect x="1346" y="1350" width="2" height="50" fill="#a9cdd3"/><rect x="1346" y="1428" width="2" height="3" fill="#a9cdd3"/><rect x="1345" y="1400" width="4" height="28" fill="#53b987"/><rect x="1350" y="1367" width="2" height="34" fill="#f5a6ae"/><rect x="1350" y="1407" width="2" height="39" fill="#f5a6ae"/><rect x="1349" y="1401" width="4" height="6" fill="#eb4d5c"/><rect x="1354" y="1365" width="2" height="40" fill="#f5a6ae"/><rect x="1354" y="1416" width="2" height="4" fill="#f5a6ae"/><rect x="1353" y="1405" width="4" height="11" fill="#eb4d5c"/><rect x="1358" y="1393" width="2" height="25" fill="#f5a6ae"/><rect x="1357" y="1418" width="4" height="120" fill="#eb4d5c"/><rect x="1362" y="1480" width="2" height="58" fill="#f5a6ae"/><rect x="1362" y="1548" width="2" height="18" fill="#f5a6ae"/><rect x="1361" y="1538" width="4" height="10" fill="#eb4d5c"/><rect x="1366" y="1548" width="2" height="22" fill="#a9cdd3"/><rect x="1365" y="1539" width="4" height="9" fill="#53b987"/><rect x="1370" y="1499" width="2" height="25" fill="#a9cdd3"/><rect x="1370" y="1555" width="2" height="11" fill="#a9cdd3"/><rect x="1369" y="1524" width="4" height="31" fill="#53b987"/><rect x="1374" y="1517" width="2" height="7" fill="#f5a6ae"/><rect x="1374" y="1548" width="2" height="4" fill="#f5a6ae"/><rect x="1373" y="1524" width="4" height="24" fill="#eb4d5c"/><rect x="1378" y="1532" width="2" height="15" fill="#f5a6ae"/><rect x="1377" y="1547" width="4" height="34" fill="#eb4d5c"/><rect x="1382" y="1556" width="2" height="8" fill="#a9cdd3"/><rect x="1381" y="1564" width="4" height="17" fill="#53b987"/><rect x="1386" y="1560" width="2" height="6" fill="#f5a6ae"/><rect x="1385" y="1566" width="4" height="20" fill="#eb4d5c"/><rect x="1390" y="1575" width="2" height="10" fill="#f5a6ae"/><rect x="1390" y="1587" width="2" height="5" fill="#f5a6ae"/><rect x="1389" y="1585" width="4" height="2" fill="#eb4d5c"/><rect x="1394" y="1578" width="2" height="8" fill="#f5a6ae"/><rect x="1394" y="1615" width="2" height="3" fill="#f5a6ae"/><rect x="1393" y="1586" width="4" height="29" fill="#eb4d5c"/><rect x="1398" y="1600" width="2" height="8" fill="#a9cdd3"/><rect x="1398" y="1617" width="2" height="14" fill="#a9cdd3"/><rect x="1397" y="1608" width="4" height="9" fill="#53b987"/><rect x="1402" y="1589" width="2" height="19" fill="#f5a6ae"/><rect x="1401" y="1608" width="4" height="22" fill="#eb4d5c"/><rect x="1406" y="1609" width="2" height="22" fill="#f5a6ae"/><rect x="1406" y="1634" width="2" height="4" fill="#f5a6ae"/><rect x="1405" y="1631" width="4" height="3" fill="#eb4d5c"/><rect x="1410" y="1455" width="2" height="43" fill="#a9cdd3"/><rect x="1409" y="1498" width="4" height="127" fill="#53b987"/><rect x="1414" y="1418" width="2" height="29" fill="#a9cdd3"/><rect x="1414" y="1498" width="2" height="8" fill="#a9cdd3"/><rect x="1413" y="1447" width="4" height="51" fill="#53b987"/><rect x="1418" y="1409" width="2" height="41" fill="#f5a6ae"/><rect x="1418" y="1471" width="2" height="91" fill="#f5a6ae"/><rect x="1417" y="1450" width="4" height="21" fill="#eb4d5c"/><rect x="1422" y="1324" width="2" height="36" fill="#a9cdd3"/><rect x="1422" y="1474" width="2" height="3" fill="#a9cdd3"/><rect x="1421" y="1360" width="4" height="114" fill="#53b987"/><rect x="1426" y="1336" width="2" height="24" fill="#f5a6ae"/><rect x="1426" y="1393" width="2" height="60" fill="#f5a6ae"/><rect x="1425" y="1360" width="4" height="33" fill="#eb4d5c"/><rect x="1430" y="1345" width="2" height="48" fill="#f5a6ae"/><rect x="1430" y="1405" width="2" height="53" fill="#f5a6ae"/><rect x="1429" y="1393" width="4" height="12" fill="#eb4d5c"/><rect x="1434" y="1376" width="2" height="28" fill="#f5a6ae"/><rect x="1434" y="1548" width="2" height="5" fill="#f5a6ae"/><rect x="1433" y="1404" width="4" height="144" fill="#eb4d5c"/><rect x="1438" y="1517" width="2" height="16" fill="#a9cdd3"/><rect x="1438" y="1548" width="2" height="52" fill="#a9cdd3"/><rect x="1437" y="1533" width="4" height="15" fill="#53b987"/><rect x="1442" y="1517" width="2" height="15" fill="#f5a6ae"/><rect x="1442" y="1555" width="2" height="45" fill="#f5a6ae"/><rect x="1441" y="1532" width="4" height="23" fill="#eb4d5c"/><rect x="1446" y="1521" width="2" height="34" fill="#f5a6ae"/><rect x="1445" y="1555" width="4" height="32" fill="#eb4d5c"/><rect x="1450" y="1554" width="2" height="14" fill="#a9cdd3"/><rect x="1450" y="1586" width="2" height="32" fill="#a9cdd3"/><rect x="1449" y="1568" width="4" height="18" fill="#53b987"/><rect x="1454" y="1651" width="2" height="38" fill="#f5a6ae"/><rect x="1453" y="1568" width="4" height="83" fill="#eb4d5c"/><rect x="1458" y="1627" width="2" height="23" fill="#f5a6ae"/><rect x="1458" y="1652" width="2" height="79" fill="#f5a6ae"/><rect x="1457" y="1650" width="4" height="2" fill="#eb4d5c"/><rect x="1462" y="1598" width="2" height="3" fill="#a9cdd3"/><rect x="1462" y="1652" width="2" height="5" fill="#a9cdd3"/><rect x="1461" y="1601" width="4" height="51" fill="#53b987"/><rect x="1466" y="1589" width="2" height="11" fill="#f5a6ae"/><rect x="1466" y="1669" width="2" height="22" fill="#f5a6ae"/><rect x="1465" y="1600" width="4" height="69" fill="#eb4d5c"/><rect x="1470" y="1607" width="2" height="17" fill="#a9cdd3"/><rect x="1470" y="1669" width="2" height="16" fill="#a9cdd3"/><rect x="1469" y="1624" width="4" height="45" fill="#53b987"/><rect x="1474" y="1513" width="2" height="21" fill="#a9cdd3"/><rect x="1474" y="1624" width="2" height="33" fill="#a9cdd3"/><rect x="1473" y="1534" width="4" height="90" fill="#53b987"/><rect x="1478" y="1517" width="2" height="16" fill="#f5a6ae"/><rect x="1478" y="1540" width="2" height="41" fill="#f5a6ae"/><rect x="1477" y="1533" width="4" height="7" fill="#eb4d5c"/><rect x="1482" y="1460" width="2" height="80" fill="#f5a6ae"/><rect x="1482" y="1548" width="2" height="16" fill="#f5a6ae"/><rect x="1481" y="1540" width="4" height="8" fill="#eb4d5c"/><rect x="1486" y="1548" width="2" height="11" fill="#a9cdd3"/><rect x="1485" y="1527" width="4" height="21" fill="#53b987"/><rect x="1490" y="1507" width="2" height="30" fill="#f5a6ae"/><rect x="1490" y="1581" width="2" height="13" fill="#f5a6ae"/><rect x="1489" y="1537" width="4" height="44" fill="#eb4d5c"/><rect x="1494" y="1548" width="2" height="28" fill="#a9cdd3"/><rect x="1494" y="1581" width="2" height="13" fill="#a9cdd3"/><rect x="1493" y="1576" width="4" height="5" fill="#53b987"/><rect x="1498" y="1550" width="2" height="24" fill="#a9cdd3"/><rect x="1498" y="1576" width="2" height="15" fill="#a9cdd3"/><rect x="1497" y="1574" width="4" height="2" fill="#53b987"/><rect x="1502" y="1560" width="2" height="6" fill="#a9cdd3"/><rect x="1502" y="1575" width="2" height="12" fill="#a9cdd3"/><rect x="1501" y="1566" width="4" height="9" fill="#53b987"/><rect x="1506" y="1528" width="2" height="36" fill="#a9cdd3"/><rect x="1506" y="1566" width="2" height="9" fill="#a9cdd3"/><rect x="1505" y="1564" width="4" height="2" fill="#53b987"/><rect x="1510" y="1538" width="2" height="2" fill="#a9cdd3"/><rect x="1510" y="1565" width="2" height="6" fill="#a9cdd3"/><rect x="1509" y="1540" width="4" height="25" fill="#53b987"/><rect x="1514" y="1512" width="2" height="4" fill="#a9cdd3"/><rect x="1514" y="1541" width="2" height="12" fill="#a9cdd3"/><rect x="1513" y="1516" width="4" height="25" fill="#53b987"/><rect x="1518" y="1482" width="2" height="27" fill="#a9cdd3"/><rect x="1517" y="1509" width="4" height="6" fill="#53b987"/><rect x="1522" y="1491" width="2" height="15" fill="#a9cdd3"/><rect x="1521" y="1506" width="4" height="3" fill="#53b987"/><rect x="1526" y="1485" width="2" height="21" fill="#f5a6ae"/><rect x="1525" y="1506" width="4" height="7" fill="#eb4d5c"/><rect x="1530" y="1550" width="2" height="46" fill="#f5a6ae"/><rect x="1529" y="1513" width="4" height="37" fill="#eb4d5c"/><rect x="1535" y="1537" width="2" height="13" fill="#f5a6ae"/><rect x="1534" y="1550" width="4" height="24" fill="#eb4d5c"/><rect x="1539" y="1359" width="2" height="56" fill="#a9cdd3"/><rect x="1539" y="1574" width="2" height="6" fill="#a9cdd3"/><rect x="1538" y="1415" width="4" height="159" fill="#53b987"/><rect x="1543" y="1390" width="2" height="24" fill="#f5a6ae"/><rect x="1542" y="1414" width="4" height="37" fill="#eb4d5c"/><rect x="1547" y="1421" width="2" height="30" fill="#f5a6ae"/><rect x="1547" y="1480" width="2" height="42" fill="#f5a6ae"/><rect x="1546" y="1451" width="4" height="29" fill="#eb4d5c"/><rect x="1551" y="1450" width="2" height="17" fill="#a9cdd3"/><rect x="1551" y="1480" width="2" height="23" fill="#a9cdd3"/><rect x="1550" y="1467" width="4" height="13" fill="#53b987"/><rect x="1555" y="1434" width="2" height="16" fill="#a9cdd3"/><rect x="1555" y="1466" width="2" height="31" fill="#a9cdd3"/><rect x="1554" y="1450" width="4" height="16" fill="#53b987"/><rect x="1559" y="1441" width="2" height="7" fill="#f5a6ae"/><rect x="1558" y="1448" width="4" height="113" fill="#eb4d5c"/><rect x="1563" y="1528" width="2" height="33" fill="#f5a6ae"/><rect x="1563" y="1632" width="2" height="12" fill="#f5a6ae"/><rect x="1562" y="1561" width="4" height="71" fill="#eb4d5c"/><rect x="1567" y="1571" width="2" height="59" fill="#f5a6ae"/><rect x="1567" y="1654" width="2" height="8" fill="#f5a6ae"/><rect x="1566" y="1630" width="4" height="24" fill="#eb4d5c"/><rect x="1571" y="1576" width="2" height="13" fill="#a9cdd3"/><rect x="1571" y="1654" width="2" height="20" fill="#a9cdd3"/><rect x="1570" y="1589" width="4" height="65" fill="#53b987"/><rect x="1575" y="1546" width="2" height="25" fill="#a9cdd3"/><rect x="1575" y="1589" width="2" height="31" fill="#a9cdd3"/><rect x="1574" y="1571" width="4" height="18" fill="#53b987"/><rect x="1579" y="1485" width="2" height="14" fill="#a9cdd3"/><rect x="1579" y="1571" width="2" height="25" fill="#a9cdd3"/><rect x="1578" y="1499" width="4" height="72" fill="#53b987"/><rect x="1583" y="1476" width="2" height="21" fill="#a9cdd3"/><rect x="1583" y="1499" width="2" height="16" fill="#a9cdd3"/><rect x="1582" y="1497" width="4" height="2" fill="#53b987"/><rect x="1587" y="1495" width="2" height="3" fill="#f5a6ae"/><rect x="1587" y="1566" width="2" height="68" fill="#f5a6ae"/><rect x="1586" y="1498" width="4" height="68" fill="#eb4d5c"/><rect x="1591" y="1587" width="2" height="15" fill="#f5a6ae"/><rect x="1590" y="1565" width="4" height="22" fill="#eb4d5c"/><rect x="1595" y="1526" width="2" height="16" fill="#a9cdd3"/><rect x="1595" y="1587" width="2" height="7" fill="#a9cdd3"/><rect x="1594" y="1542" width="4" height="45" fill="#53b987"/><rect x="1599" y="1504" width="2" height="17" fill="#a9cdd3"/><rect x="1599" y="1542" width="2" height="6" fill="#a9cdd3"/><rect x="1598" y="1521" width="4" height="21" fill="#53b987"/><rect x="1603" y="1461" width="2" height="61" fill="#f5a6ae"/><rect x="1603" y="1531" width="2" height="6" fill="#f5a6ae"/><rect x="1602" y="1522" width="4" height="9" fill="#eb4d5c"/><rect x="1607" y="1499" width="2" height="12" fill="#a9cdd3"/><rect x="1607" y="1528" width="2" height="10" fill="#a9cdd3"/><rect x="1606" y="1511" width="4" height="17" fill="#53b987"/><rect x="1611" y="1486" width="2" height="15" fill="#a9cdd3"/><rect x="1611" y="1528" width="2" height="9" fill="#a9cdd3"/><rect x="1610" y="1501" width="4" height="27" fill="#53b987"/><rect x="1615" y="1491" width="2" height="7" fill="#f5a6ae"/><rect x="1614" y="1498" width="4" height="11" fill="#eb4d5c"/><rect x="1619" y="1509" width="2" height="9" fill="#a9cdd3"/><rect x="1618" y="1478" width="4" height="31" fill="#53b987"/><rect x="1623" y="1474" width="2" height="5" fill="#f5a6ae"/><rect x="1623" y="1482" width="2" height="7" fill="#f5a6ae"/><rect x="1622" y="1479" width="4" height="3" fill="#eb4d5c"/><rect x="1627" y="1481" width="2" height="9" fill="#a9cdd3"/><rect x="1626" y="1470" width="4" height="11" fill="#53b987"/><rect x="1631" y="1480" width="2" height="9" fill="#f5a6ae"/><rect x="1630" y="1472" width="4" height="8" fill="#eb4d5c"/><rect x="1635" y="1452" width="2" height="3" fill="#a9cdd3"/><rect x="1634" y="1455" width="4" height="25" fill="#53b987"/><rect x="1639" y="1453" width="2" height="4" fill="#f5a6ae"/><rect x="1639" y="1474" width="2" height="7" fill="#f5a6ae"/><rect x="1638" y="1457" width="4" height="17" fill="#eb4d5c"/><rect x="1643" y="1478" width="2" height="2" fill="#f5a6ae"/><rect x="1642" y="1472" width="4" height="6" fill="#eb4d5c"/><rect x="1647" y="1482" width="2" height="17" fill="#a9cdd3"/><rect x="1646" y="1480" width="4" height="2" fill="#53b987"/><rect x="1651" y="1428" width="2" height="36" fill="#a9cdd3"/><rect x="1651" y="1493" width="2" height="17" fill="#a9cdd3"/><rect x="1650" y="1464" width="4" height="29" fill="#53b987"/><rect x="1655" y="1397" width="2" height="35" fill="#a9cdd3"/><rect x="1654" y="1432" width="4" height="29" fill="#53b987"/><rect x="1659" y="1420" width="2" height="12" fill="#f5a6ae"/><rect x="1659" y="1525" width="2" height="34" fill="#f5a6ae"/><rect x="1658" y="1432" width="4" height="93" fill="#eb4d5c"/><rect x="1663" y="1512" width="2" height="13" fill="#f5a6ae"/><rect x="1663" y="1531" width="2" height="35" fill="#f5a6ae"/><rect x="1662" y="1525" width="4" height="6" fill="#eb4d5c"/><rect x="1667" y="1530" width="2" height="2" fill="#a9cdd3"/><rect x="1666" y="1486" width="4" height="44" fill="#53b987"/><rect x="1671" y="1452" width="2" height="14" fill="#a9cdd3"/><rect x="1670" y="1466" width="4" height="22" fill="#53b987"/><rect x="1675" y="1385" width="2" height="53" fill="#a9cdd3"/><rect x="1674" y="1438" width="4" height="29" fill="#53b987"/><rect x="1679" y="1425" width="2" height="13" fill="#f5a6ae"/><rect x="1679" y="1472" width="2" height="13" fill="#f5a6ae"/><rect x="1678" y="1438" width="4" height="34" fill="#eb4d5c"/><rect x="1683" y="1463" width="2" height="9" fill="#f5a6ae"/><rect x="1683" y="1582" width="2" height="14" fill="#f5a6ae"/><rect x="1682" y="1472" width="4" height="110" fill="#eb4d5c"/><rect x="1687" y="1512" width="2" height="17" fill="#a9cdd3"/><rect x="1687" y="1583" width="2" height="6" fill="#a9cdd3"/><rect x="1686" y="1529" width="4" height="54" fill="#53b987"/><rect x="1691" y="1488" width="2" height="7" fill="#a9cdd3"/><rect x="1691" y="1529" width="2" height="34" fill="#a9cdd3"/><rect x="1690" y="1495" width="4" height="34" fill="#53b987"/><rect x="1695" y="1481" width="2" height="12" fill="#f5a6ae"/><rect x="1695" y="1521" width="2" height="38" fill="#f5a6ae"/><rect x="1694" y="1493" width="4" height="28" fill="#eb4d5c"/><rect x="1699" y="1485" width="2" height="35" fill="#f5a6ae"/><rect x="1699" y="1529" width="2" height="26" fill="#f5a6ae"/><rect x="1698" y="1520" width="4" height="9" fill="#eb4d5c"/><rect x="1703" y="1515" width="2" height="14" fill="#f5a6ae"/><rect x="1703" y="1542" width="2" height="49" fill="#f5a6ae"/><rect x="1702" y="1529" width="4" height="13" fill="#eb4d5c"/><rect x="1707" y="1488" width="2" height="18" fill="#a9cdd3"/><rect x="1707" y="1541" width="2" height="6" fill="#a9cdd3"/><rect x="1706" y="1506" width="4" height="35" fill="#53b987"/><rect x="1711" y="1460" width="2" height="14" fill="#a9cdd3"/><rect x="1711" y="1505" width="2" height="31" fill="#a9cdd3"/><rect x="1710" y="1474" width="4" height="31" fill="#53b987"/><rect x="1715" y="1457" width="2" height="17" fill="#f5a6ae"/><rect x="1715" y="1494" width="2" height="44" fill="#f5a6ae"/><rect x="1714" y="1474" width="4" height="20" fill="#eb4d5c"/><rect x="1719" y="1466" width="2" height="28" fill="#a9cdd3"/><rect x="1719" y="1496" width="2" height="32" fill="#a9cdd3"/><rect x="1718" y="1494" width="4" height="2" fill="#53b987"/><rect x="1723" y="1452" width="2" height="17" fill="#a9cdd3"/><rect x="1723" y="1495" width="2" height="13" fill="#a9cdd3"/><rect x="1722" y="1469" width="4" height="26" fill="#53b987"/><rect x="1728" y="1433" width="2" height="8" fill="#a9cdd3"/><rect x="1727" y="1441" width="4" height="29" fill="#53b987"/><rect x="1732" y="1324" width="2" height="46" fill="#a9cdd3"/><rect x="1732" y="1433" width="2" height="10" fill="#a9cdd3"/><rect x="1731" y="1370" width="4" height="63" fill="#53b987"/><rect x="1736" y="1327" width="2" height="35" fill="#a9cdd3"/><rect x="1736" y="1369" width="2" height="17" fill="#a9cdd3"/><rect x="1735" y="1362" width="4" height="7" fill="#53b987"/><rect x="1740" y="1330" width="2" height="7" fill="#a9cdd3"/><rect x="1739" y="1337" width="4" height="25" fill="#53b987"/></g>
<line x1="0" y1="1337" x2="3728" y2="1337" stroke="#53b987" stroke-width="2" stroke-dasharray="2 4"/>
<line x1="450.4" y1="168.2" x2="922.1" y2="1689.9" stroke="#4155f8" stroke-width="7" stroke-linecap="round"/>
<line x1="1099.3" y1="792.7" x2="2176" y2="1984.4" stroke="#4155f8" stroke-width="7" stroke-linecap="round"/>
<line x1="1088.6" y1="809" x2="1177.2" y2="1223.1" stroke="#15a586" stroke-width="7" stroke-linecap="round"/>
<line x1="1723.7" y1="1331.3" x2="1972.3" y2="1712.4" stroke="#15a586" stroke-width="7" stroke-linecap="round"/>
<line x1="1754.2" y1="1333.2" x2="1998.5" y2="1702.6" stroke="#f0403f" stroke-width="7" stroke-linecap="round"/><polygon points="2007.9,1716.8 1988.4,1705.7 2005.3,1694.5" fill="#f0403f"/>
<line x1="2024.4" y1="1738.4" x2="2183.7" y2="1962.4" stroke="#f0403f" stroke-width="7" stroke-dasharray="20 8" stroke-dashoffset="3"/><circle cx="2024.4" cy="1738.4" r="3.5" fill="#f0403f"/><polygon points="2193.5,1976.3 2173.7,1965.9 2190.1,1954.1" fill="#f0403f"/>
<line x1="2215.2" y1="1955.8" x2="2319.2" y2="1718.6" stroke="#f0403f" stroke-width="7" stroke-dasharray="20 8" stroke-dashoffset="3"/><circle cx="2215.2" cy="1955.8" r="3.5" fill="#f0403f"/><polygon points="2326.0,1703.0 2327.2,1725.4 2308.7,1717.3" fill="#f0403f"/>
<line x1="2325" y1="1694" x2="2494.6" y2="1242.3" stroke="#f0403f" stroke-width="7" stroke-linecap="round"/><polygon points="2500.6,1226.4 2503.0,1248.7 2484.1,1241.6" fill="#f0403f"/>
<line x1="2504.7" y1="1214.3" x2="2664.0" y2="791.2" stroke="#f0403f" stroke-width="7" stroke-dasharray="20 8" stroke-dashoffset="3"/><circle cx="2504.7" cy="1214.3" r="3.5" fill="#f0403f"/><polygon points="2670.0,775.3 2672.4,797.6 2653.5,790.5" fill="#f0403f"/>
<line x1="137" y1="0" x2="137" y2="2026" stroke="#8a8a8a" stroke-width="2" stroke-dasharray="10 12"/>
<line x1="0" y1="1024" x2="3690" y2="1024" stroke="#8a8a8a" stroke-width="2" stroke-dasharray="10 12"/>
<rect x="119" y="1025" width="39" height="4" fill="#000"/><rect x="136" y="1008" width="4" height="39" fill="#000"/>
<rect x="3732" y="0" width="2" height="2080" fill="#48484c"/>
<rect x="0" y="2026" width="3840" height="2" fill="#48484c"/></svg>

<div class="legendbg"></div>
<div class="t" style="left:17.5px;top:17.8px;font-size:31px;color:#4a4a4a;font-weight:normal;transform:scaleX(0.908);transform-origin:0 0;">RTS INDEX FUTURES (DEC 2022)</div>
<div class="t" style="left:490.5px;top:17.8px;font-size:31px;color:#4a4a4a;font-weight:normal;transform:scaleX(0.95);transform-origin:0 0;">30</div>
<div class="t" style="left:547px;top:17.8px;font-size:31px;color:#4a4a4a;font-weight:normal;transform:scaleX(0.875);transform-origin:0 0;">MOEX</div>
<div class="t" style="left:653px;top:17.8px;font-size:31px;color:#4a4a4a;font-weight:normal;">TradingView</div>
<div style="position:absolute;left:475.8px;top:30.4px;width:4.8px;height:4.8px;border-radius:50%;background:#c4c4c4"></div>
<div style="position:absolute;left:533.2px;top:30.4px;width:4.8px;height:4.8px;border-radius:50%;background:#c4c4c4"></div>
<div style="position:absolute;left:636.1px;top:30.4px;width:4.8px;height:4.8px;border-radius:50%;background:#c4c4c4"></div>
<div style="position:absolute;left:855px;top:14px;width:80px;height:36px;border-radius:18px;overflow:hidden;background:#fbdce7;"><div style="position:absolute;left:0;top:0;width:40px;height:36px;background:#ddf2ee"></div><div style="position:absolute;left:14px;top:10px;width:16px;height:16px;border-radius:8px;background:#14987f"></div><div style="position:absolute;left:40px;top:0;width:36px;height:36px;text-align:center;line-height:34px;font-size:30px;font-weight:bold;color:#c2185b;font-family:'DejaVu Sans',sans-serif">≈</div></div>
<div class="t" style="left:965.5px;top:22.1px;font-size:25px;color:#4a4a4a;font-weight:normal;transform:scaleX(0.955);transform-origin:0 0;">ОТКР</div>
<div class="t" style="left:1032.5px;top:22.1px;font-size:25px;color:#53b987;font-weight:normal;transform:scaleX(0.995);transform-origin:0 0;">116660</div>
<div class="t" style="left:1126px;top:22.1px;font-size:25px;color:#4a4a4a;font-weight:normal;transform:scaleX(0.925);transform-origin:0 0;">МАКС</div>
<div class="t" style="left:1194px;top:22.1px;font-size:25px;color:#53b987;font-weight:normal;transform:scaleX(0.995);transform-origin:0 0;">117000</div>
<div class="t" style="left:1287px;top:22.1px;font-size:25px;color:#4a4a4a;font-weight:normal;transform:scaleX(0.97);transform-origin:0 0;">МИН</div>
<div class="t" style="left:1343.5px;top:22.1px;font-size:25px;color:#53b987;font-weight:normal;transform:scaleX(0.995);transform-origin:0 0;">116640</div>
<div class="t" style="left:1437.5px;top:22.1px;font-size:25px;color:#4a4a4a;font-weight:normal;transform:scaleX(0.925);transform-origin:0 0;">ЗАКР</div>
<div class="t" style="left:1498.5px;top:22.1px;font-size:25px;color:#53b987;font-weight:normal;transform:scaleX(0.995);transform-origin:0 0;">116990</div>
<div class="t" style="left:1593px;top:22.1px;font-size:25px;color:#53b987;font-weight:normal;transform:scaleX(0.978);transform-origin:0 0;">+350 (+0.30%)</div>
<div class="box" style="left:16px;border-color:#d9343f;"></div>
<div class="t" style="left:31px;top:75.8px;font-size:25px;color:#d9343f;font-weight:normal;">101220</div>
<div class="t" style="left:145.5px;top:78.6px;font-size:20px;color:#555;font-weight:normal;">0</div>
<div class="box" style="left:173px;border-color:#2a5be0;"></div>
<div class="t" style="left:188px;top:75.8px;font-size:25px;color:#2a5be0;font-weight:normal;">101220</div>
<div class="t" style="left:3751.5px;top:15.9px;font-size:20.5px;color:#4a4a4a;font-weight:normal;transform:scaleX(0.88);transform-origin:0 0;">USD</div>
<svg style="position:absolute;left:3794px;top:18px" width="16" height="12" viewBox="0 0 16 12"><path d="M2.5 4 L7.5 8.5 L12.5 4" fill="none" stroke="#444" stroke-width="2.4"/></svg>
<div class="t" style="left:3750.3px;top:1979.5px;font-size:21.5px;color:#555;font-weight:normal;transform:scaleX(0.99);transform-origin:0 0;">91000</div>
<div class="t" style="left:3750.3px;top:1915.8px;font-size:21.5px;color:#555;font-weight:normal;transform:scaleX(0.99);transform-origin:0 0;">92000</div>
<div class="t" style="left:3750.3px;top:1852.0px;font-size:21.5px;color:#555;font-weight:normal;transform:scaleX(0.99);transform-origin:0 0;">93000</div>
<div class="t" style="left:3750.3px;top:1788.2px;font-size:21.5px;color:#555;font-weight:normal;transform:scaleX(0.99);transform-origin:0 0;">94000</div>
<div class="t" style="left:3750.3px;top:1724.5px;font-size:21.5px;color:#555;font-weight:normal;transform:scaleX(0.99);transform-origin:0 0;">95000</div>
<div class="t" style="left:3750.3px;top:1660.7px;font-size:21.5px;color:#555;font-weight:normal;transform:scaleX(0.99);transform-origin:0 0;">96000</div>
<div class="t" style="left:3750.3px;top:1596.9px;font-size:21.5px;color:#555;font-weight:normal;transform:scaleX(0.99);transform-origin:0 0;">97000</div>
<div class="t" style="left:3750.3px;top:1533.1px;font-size:21.5px;color:#555;font-weight:normal;transform:scaleX(0.99);transform-origin:0 0;">98000</div>
<div class="t" style="left:3750.3px;top:1469.4px;font-size:21.5px;color:#555;font-weight:normal;transform:scaleX(0.99);transform-origin:0 0;">99000</div>
<div class="t" style="left:3750.3px;top:1405.6px;font-size:21.5px;color:#555;font-weight:normal;transform:scaleX(0.99);transform-origin:0 0;">100000</div>
<div class="t" style="left:3750.3px;top:1278.1px;font-size:21.5px;color:#555;font-weight:normal;transform:scaleX(0.99);transform-origin:0 0;">102000</div>
<div class="t" style="left:3750.3px;top:1214.3px;font-size:21.5px;color:#555;font-weight:normal;transform:scaleX(0.99);transform-origin:0 0;">103000</div>
<div class="t" style="left:3750.3px;top:1150.5px;font-size:21.5px;color:#555;font-weight:normal;transform:scaleX(0.99);transform-origin:0 0;">104000</div>
<div class="t" style="left:3750.3px;top:1086.8px;font-size:21.5px;color:#555;font-weight:normal;transform:scaleX(0.99);transform-origin:0 0;">105000</div>
<div class="t" style="left:3750.3px;top:959.2px;font-size:21.5px;color:#555;font-weight:normal;transform:scaleX(0.99);transform-origin:0 0;">107000</div>
<div class="t" style="left:3750.3px;top:895.4px;font-size:21.5px;color:#555;font-weight:normal;transform:scaleX(0.99);transform-origin:0 0;">108000</div>
<div class="t" style="left:3750.3px;top:831.7px;font-size:21.5px;color:#555;font-weight:normal;transform:scaleX(0.99);transform-origin:0 0;">109000</div>
<div class="t" style="left:3750.3px;top:767.9px;font-size:21.5px;color:#555;font-weight:normal;transform:scaleX(0.99);transform-origin:0 0;">110000</div>
<div class="t" style="left:3750.3px;top:704.1px;font-size:21.5px;color:#555;font-weight:normal;transform:scaleX(0.99);transform-origin:0 0;">111000</div>
<div class="t" style="left:3750.3px;top:640.4px;font-size:21.5px;color:#555;font-weight:normal;transform:scaleX(0.99);transform-origin:0 0;">112000</div>
<div class="t" style="left:3750.3px;top:576.6px;font-size:21.5px;color:#555;font-weight:normal;transform:scaleX(0.99);transform-origin:0 0;">113000</div>
<div class="t" style="left:3750.3px;top:512.8px;font-size:21.5px;color:#555;font-weight:normal;transform:scaleX(0.99);transform-origin:0 0;">114000</div>
<div class="t" style="left:3750.3px;top:449.1px;font-size:21.5px;color:#555;font-weight:normal;transform:scaleX(0.99);transform-origin:0 0;">115000</div>
<div class="t" style="left:3750.3px;top:385.3px;font-size:21.5px;color:#555;font-weight:normal;transform:scaleX(0.99);transform-origin:0 0;">116000</div>
<div class="t" style="left:3750.3px;top:321.5px;font-size:21.5px;color:#555;font-weight:normal;transform:scaleX(0.99);transform-origin:0 0;">117000</div>
<div class="t" style="left:3750.3px;top:257.7px;font-size:21.5px;color:#555;font-weight:normal;transform:scaleX(0.99);transform-origin:0 0;">118000</div>
<div class="t" style="left:3750.3px;top:194.0px;font-size:21.5px;color:#555;font-weight:normal;transform:scaleX(0.99);transform-origin:0 0;">119000</div>
<div class="t" style="left:3750.3px;top:130.2px;font-size:21.5px;color:#555;font-weight:normal;transform:scaleX(0.99);transform-origin:0 0;">120000</div>
<div class="t" style="left:3750.3px;top:66.4px;font-size:21.5px;color:#555;font-weight:normal;transform:scaleX(0.99);transform-origin:0 0;">121000</div>
<div style="position:absolute;left:3690px;top:1004px;width:40px;height:40px;background:#131722;border-radius:5px 0 0 5px"></div>
<svg style="position:absolute;left:3690px;top:1004px" width="40" height="40" viewBox="0 0 40 40"><circle cx="20" cy="20" r="13" fill="none" stroke="#fff" stroke-width="2.2"/><path d="M13 20H27M20 13V27" stroke="#fff" stroke-width="2.6"/></svg>
<div style="position:absolute;left:3732px;top:1004px;width:100px;height:40px;background:#131722;border-radius:0 5px 5px 0;"></div>
<div class="t" style="left:3751px;top:1013.2px;font-size:22.5px;color:#fff;font-weight:bold;transform:scaleX(0.95);transform-origin:0 0;">106130</div>
<div style="position:absolute;left:3732px;top:1321px;width:100px;height:58px;background:#53b987;border-radius:0 5px 5px 0;"></div>
<div class="t" style="left:3751.5px;top:1327.1px;font-size:21.5px;color:#06170e;font-weight:normal;transform:scaleX(0.99);transform-origin:0 0;">101220</div>
<div class="t" style="left:3751.5px;top:1353.4px;font-size:21.5px;color:#06170e;font-weight:normal;transform:scaleX(0.99);transform-origin:0 0;">15:29</div>
<div class="tl" style="left:326px">14</div>
<div class="tl" style="left:518px">18:00</div>
<div class="tl" style="left:687px">19</div>
<div class="tl" style="left:928px">21</div>
<div class="tl" style="left:1121px">18:00</div>
<div class="tl" style="left:1290px">26</div>
<div class="tl" style="left:1531px">28</div>
<div class="tl" style="left:1773px">30</div>
<div class="tl" style="left:1965px"><b>Окт</b></div>
<div class="tl" style="left:2126px">03:00</div>
<div class="tl" style="left:2295px">5</div>
<div class="tl" style="left:2488px">6</div>
<div class="tl" style="left:2681px">7</div>
<div class="tl" style="left:2874px">10</div>
<div class="tl" style="left:3035px">03:00</div>
<div class="tl" style="left:3203px">12</div>
<div class="tl" style="left:3396px">13</div>
<div class="tl" style="left:3589px">14</div>
<div style="position:absolute;left:17px;top:2027px;width:239px;height:45px;background:#131722;border-radius:0 0 5px 5px;"></div>
<div class="t" style="left:33px;top:2043.8px;font-size:21.5px;color:#fff;font-weight:normal;transform:scaleX(0.99);transform-origin:0 0;white-space:pre;-webkit-text-stroke:0.35px #fff;">пн 12 Сен '22</div>
<div class="t" style="left:185.2px;top:2043.8px;font-size:21.5px;color:#fff;font-weight:normal;white-space:pre;-webkit-text-stroke:0.35px #fff;">15:30</div>
<svg style="position:absolute;left:3766px;top:2034px" width="40" height="40" viewBox="-20 -20 40 40"><circle r="10" fill="none" stroke="#131722" stroke-width="2.2"/><line x1="11.00" y1="0.00" x2="15.00" y2="0.00" stroke="#131722" stroke-width="2.4"/><line x1="7.78" y1="7.78" x2="10.61" y2="10.61" stroke="#131722" stroke-width="2.4"/><line x1="0.00" y1="11.00" x2="0.00" y2="15.00" stroke="#131722" stroke-width="2.4"/><line x1="-7.78" y1="7.78" x2="-10.61" y2="10.61" stroke="#131722" stroke-width="2.4"/><line x1="-11.00" y1="0.00" x2="-15.00" y2="0.00" stroke="#131722" stroke-width="2.4"/><line x1="-7.78" y1="-7.78" x2="-10.61" y2="-10.61" stroke="#131722" stroke-width="2.4"/><line x1="-0.00" y1="-11.00" x2="-0.00" y2="-15.00" stroke="#131722" stroke-width="2.4"/><line x1="7.78" y1="-7.78" x2="10.61" y2="-10.61" stroke="#131722" stroke-width="2.4"/></svg>
<svg style="position:absolute;left:12px;top:1947px" width="70" height="70" viewBox="0 0 70 70"><circle cx="35" cy="35" r="32.5" fill="#fff" stroke="#e3e3e3" stroke-width="2"/><path d="M14 25.4H31.6V46.6H23.8V33.2H14Z" fill="#131722"/><circle cx="38.4" cy="29.2" r="3.9" fill="#131722"/><path d="M45.7 25.4H56.8L48.1 46.6H37.9Z" fill="#131722"/></svg>
</body></html>
